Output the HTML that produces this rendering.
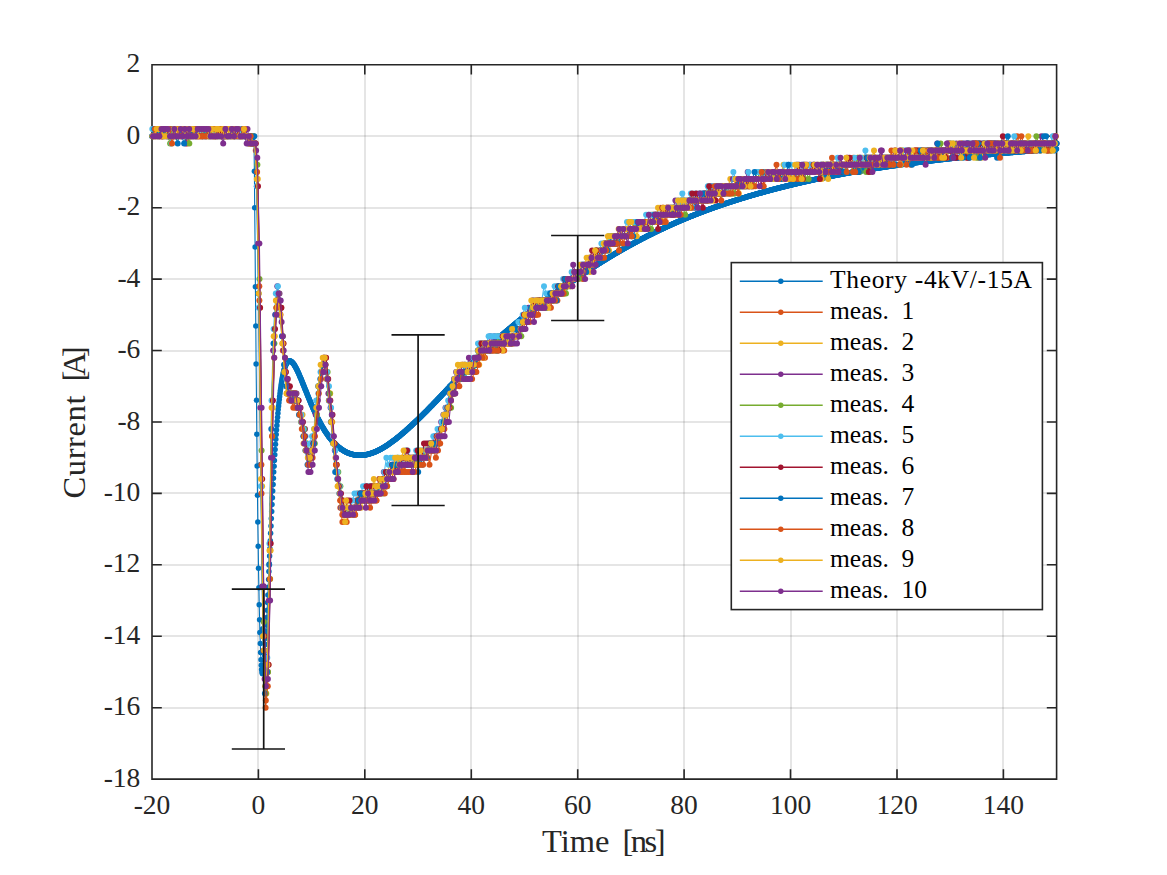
<!DOCTYPE html><html><head><meta charset="utf-8"><style>html,body{margin:0;padding:0;background:#fff;width:1167px;height:875px;overflow:hidden}svg{display:block}text{font-family:"Liberation Serif",serif;fill:#262626}</style></head><body><svg width="1167" height="875" viewBox="0 0 1167 875"><rect width="1167" height="875" fill="#fff"/><path d="M258.0 64.8V779.1" stroke="#262626" stroke-opacity="0.12" stroke-width="2" fill="none"/><path d="M365.0 64.8V779.1" stroke="#262626" stroke-opacity="0.12" stroke-width="2" fill="none"/><path d="M471.0 64.8V779.1" stroke="#262626" stroke-opacity="0.12" stroke-width="2" fill="none"/><path d="M578.0 64.8V779.1" stroke="#262626" stroke-opacity="0.12" stroke-width="2" fill="none"/><path d="M684.0 64.8V779.1" stroke="#262626" stroke-opacity="0.12" stroke-width="2" fill="none"/><path d="M791.0 64.8V779.1" stroke="#262626" stroke-opacity="0.12" stroke-width="2" fill="none"/><path d="M897.0 64.8V779.1" stroke="#262626" stroke-opacity="0.12" stroke-width="2" fill="none"/><path d="M1003.0 64.8V779.1" stroke="#262626" stroke-opacity="0.12" stroke-width="2" fill="none"/><path d="M152.0 708.0H1056.6" stroke="#262626" stroke-opacity="0.12" stroke-width="2" fill="none"/><path d="M152.0 636.0H1056.6" stroke="#262626" stroke-opacity="0.12" stroke-width="2" fill="none"/><path d="M152.0 565.0H1056.6" stroke="#262626" stroke-opacity="0.12" stroke-width="2" fill="none"/><path d="M152.0 493.0H1056.6" stroke="#262626" stroke-opacity="0.12" stroke-width="2" fill="none"/><path d="M152.0 422.0H1056.6" stroke="#262626" stroke-opacity="0.12" stroke-width="2" fill="none"/><path d="M152.0 351.0H1056.6" stroke="#262626" stroke-opacity="0.12" stroke-width="2" fill="none"/><path d="M152.0 279.0H1056.6" stroke="#262626" stroke-opacity="0.12" stroke-width="2" fill="none"/><path d="M152.0 208.0H1056.6" stroke="#262626" stroke-opacity="0.12" stroke-width="2" fill="none"/><path d="M152.0 136.0H1056.6" stroke="#262626" stroke-opacity="0.12" stroke-width="2" fill="none"/><path d="M152.0 64.8H1056.6V779.1H152.0ZM152.0 779.1v-9M152.0 64.8v9M258.4 779.1v-9M258.4 64.8v9M364.8 779.1v-9M364.8 64.8v9M471.3 779.1v-9M471.3 64.8v9M577.7 779.1v-9M577.7 64.8v9M684.1 779.1v-9M684.1 64.8v9M790.5 779.1v-9M790.5 64.8v9M897.0 779.1v-9M897.0 64.8v9M1003.4 779.1v-9M1003.4 64.8v9M152.0 779.1h9M1056.6 779.1h-9M152.0 707.7h9M1056.6 707.7h-9M152.0 636.2h9M1056.6 636.2h-9M152.0 564.8h9M1056.6 564.8h-9M152.0 493.4h9M1056.6 493.4h-9M152.0 422.0h9M1056.6 422.0h-9M152.0 350.5h9M1056.6 350.5h-9M152.0 279.1h9M1056.6 279.1h-9M152.0 207.7h9M1056.6 207.7h-9M152.0 136.2h9M1056.6 136.2h-9M152.0 64.8h9M1056.6 64.8h-9" stroke="#262626" stroke-width="1.6" fill="none" stroke-linecap="square"/><defs><marker id="m0" markerUnits="userSpaceOnUse" markerWidth="8" markerHeight="8" refX="4" refY="4" overflow="visible"><circle cx="4" cy="4" r="3.0" fill="#0072BD"/></marker><marker id="m1" markerUnits="userSpaceOnUse" markerWidth="8" markerHeight="8" refX="4" refY="4" overflow="visible"><circle cx="4" cy="4" r="3.0" fill="#D95319"/></marker><marker id="m2" markerUnits="userSpaceOnUse" markerWidth="8" markerHeight="8" refX="4" refY="4" overflow="visible"><circle cx="4" cy="4" r="3.0" fill="#EDB120"/></marker><marker id="m3" markerUnits="userSpaceOnUse" markerWidth="8" markerHeight="8" refX="4" refY="4" overflow="visible"><circle cx="4" cy="4" r="3.0" fill="#7E2F8E"/></marker><marker id="m4" markerUnits="userSpaceOnUse" markerWidth="8" markerHeight="8" refX="4" refY="4" overflow="visible"><circle cx="4" cy="4" r="3.0" fill="#77AC30"/></marker><marker id="m5" markerUnits="userSpaceOnUse" markerWidth="8" markerHeight="8" refX="4" refY="4" overflow="visible"><circle cx="4" cy="4" r="3.0" fill="#4DBEEE"/></marker><marker id="m6" markerUnits="userSpaceOnUse" markerWidth="8" markerHeight="8" refX="4" refY="4" overflow="visible"><circle cx="4" cy="4" r="3.0" fill="#A2142F"/></marker><marker id="mt" markerUnits="userSpaceOnUse" markerWidth="8" markerHeight="8" refX="4" refY="4" overflow="visible"><circle cx="4" cy="4" r="2.75" fill="#0072BD"/></marker></defs><polyline points="152.0,136.2 152.3,136.2 152.7,136.2 153.0,136.2 153.4,136.2 153.7,136.2 154.1,136.2 154.4,136.2 154.8,136.2 155.1,136.2 155.5,136.2 155.8,136.2 156.2,136.2 156.5,136.2 156.8,136.2 157.2,136.2 157.5,136.2 157.9,136.2 158.2,136.2 158.6,136.2 158.9,136.2 159.3,136.2 159.6,136.2 160.0,136.2 160.3,136.2 160.6,136.2 161.0,136.2 161.3,136.2 161.7,136.2 162.0,136.2 162.4,136.2 162.7,136.2 163.1,136.2 163.4,136.2 163.8,136.2 164.1,136.2 164.5,136.2 164.8,136.2 165.1,136.2 165.5,136.2 165.8,136.2 166.2,136.2 166.5,136.2 166.9,136.2 167.2,136.2 167.6,136.2 167.9,136.2 168.3,136.2 168.6,136.2 168.9,136.2 169.3,136.2 169.6,136.2 170.0,136.2 170.3,136.2 170.7,136.2 171.0,136.2 171.4,136.2 171.7,136.2 172.1,136.2 172.4,136.2 172.8,136.2 173.1,136.2 173.4,136.2 173.8,136.2 174.1,136.2 174.5,136.2 174.8,136.2 175.2,136.2 175.5,136.2 175.9,136.2 176.2,136.2 176.6,136.2 176.9,136.2 177.2,136.2 177.6,136.2 177.9,136.2 178.3,136.2 178.6,136.2 179.0,136.2 179.3,136.2 179.7,136.2 180.0,136.2 180.4,136.2 180.7,136.2 181.1,136.2 181.4,136.2 181.7,136.2 182.1,136.2 182.4,136.2 182.8,136.2 183.1,136.2 183.5,136.2 183.8,136.2 184.2,136.2 184.5,136.2 184.9,136.2 185.2,136.2 185.6,136.2 185.9,136.2 186.2,136.2 186.6,136.2 186.9,136.2 187.3,136.2 187.6,136.2 188.0,136.2 188.3,136.2 188.7,136.2 189.0,136.2 189.4,136.2 189.7,136.2 190.0,136.2 190.4,136.2 190.7,136.2 191.1,136.2 191.4,136.2 191.8,136.2 192.1,136.2 192.5,136.2 192.8,136.2 193.2,136.2 193.5,136.2 193.9,136.2 194.2,136.2 194.5,136.2 194.9,136.2 195.2,136.2 195.6,136.2 195.9,136.2 196.3,136.2 196.6,136.2 197.0,136.2 197.3,136.2 197.7,136.2 198.0,136.2 198.3,136.2 198.7,136.2 199.0,136.2 199.4,136.2 199.7,136.2 200.1,136.2 200.4,136.2 200.8,136.2 201.1,136.2 201.5,136.2 201.8,136.2 202.2,136.2 202.5,136.2 202.8,136.2 203.2,136.2 203.5,136.2 203.9,136.2 204.2,136.2 204.6,136.2 204.9,136.2 205.3,136.2 205.6,136.2 206.0,136.2 206.3,136.2 206.6,136.2 207.0,136.2 207.3,136.2 207.7,136.2 208.0,136.2 208.4,136.2 208.7,136.2 209.1,136.2 209.4,136.2 209.8,136.2 210.1,136.2 210.5,136.2 210.8,136.2 211.1,136.2 211.5,136.2 211.8,136.2 212.2,136.2 212.5,136.2 212.9,136.2 213.2,136.2 213.6,136.2 213.9,136.2 214.3,136.2 214.6,136.2 214.9,136.2 215.3,136.2 215.6,136.2 216.0,136.2 216.3,136.2 216.7,136.2 217.0,136.2 217.4,136.2 217.7,136.2 218.1,136.2 218.4,136.2 218.8,136.2 219.1,136.2 219.4,136.2 219.8,136.2 220.1,136.2 220.5,136.2 220.8,136.2 221.2,136.2 221.5,136.2 221.9,136.2 222.2,136.2 222.6,136.2 222.9,136.2 223.3,136.2 223.6,136.2 223.9,136.2 224.3,136.2 224.6,136.2 225.0,136.2 225.3,136.2 225.7,136.2 226.0,136.2 226.4,136.2 226.7,136.2 227.1,136.2 227.4,136.2 227.7,136.2 228.1,136.2 228.4,136.2 228.8,136.2 229.1,136.2 229.5,136.2 229.8,136.2 230.2,136.2 230.5,136.2 230.9,136.2 231.2,136.2 231.6,136.2 231.9,136.2 232.2,136.2 232.6,136.2 232.9,136.2 233.3,136.2 233.6,136.2 234.0,136.2 234.3,136.2 234.7,136.2 235.0,136.2 235.4,136.2 235.7,136.2 236.0,136.2 236.4,136.2 236.7,136.2 237.1,136.2 237.4,136.2 237.8,136.2 238.1,136.2 238.5,136.2 238.8,136.2 239.2,136.2 239.5,136.2 239.9,136.2 240.2,136.2 240.5,136.2 240.9,136.2 241.2,136.2 241.6,136.2 241.9,136.2 242.3,136.2 242.6,136.2 243.0,136.2 243.3,136.2 243.7,136.2 244.0,136.2 244.3,136.2 244.7,136.2 245.0,136.2 245.4,136.2 245.7,136.2 246.1,136.2 246.4,136.2 246.8,136.2 247.1,136.2 247.5,136.2 247.8,136.2 248.2,136.2 248.5,136.2 248.8,136.2 249.2,136.2 249.5,136.2 249.9,136.2 250.2,136.2 250.6,136.2 250.9,136.2 251.3,136.2 251.6,136.2 252.0,136.2 252.3,136.2 252.7,136.2 253.0,136.2 253.3,136.2 253.7,136.2 254.0,142.1 254.4,171.3 254.7,207.8 255.1,246.9 255.4,286.7 255.8,326.0 256.1,364.0 256.5,400.2 256.8,434.2 257.1,465.9 257.5,495.2 257.8,522.0 258.2,546.3 258.5,568.2 258.9,587.7 259.2,604.8 259.6,619.8 259.9,632.6 260.3,643.5 260.6,652.5 261.0,659.7 261.3,665.3 261.6,669.4 262.0,672.1 262.3,673.5 262.7,673.7 263.0,672.8 263.4,671.0 263.7,668.3 264.1,664.8 264.4,660.6 264.8,655.8 265.1,650.4 265.4,644.6 265.8,638.3 266.1,631.7 266.5,624.7 266.8,617.5 267.2,610.2 267.5,602.6 267.9,595.0 268.2,587.2 268.6,579.4 268.9,571.6 269.3,563.9 269.6,556.1 269.9,548.4 270.3,540.8 270.6,533.3 271.0,525.9 271.3,518.6 271.7,511.5 272.0,504.5 272.4,497.7 272.7,491.0 273.1,484.5 273.4,478.2 273.7,472.1 274.1,466.2 274.4,460.4 274.8,454.8 275.1,449.5 275.5,444.3 275.8,439.3 276.2,434.5 276.5,429.9 276.9,425.5 277.2,421.2 277.6,417.2 277.9,413.3 278.2,409.6 278.6,406.0 278.9,402.7 279.3,399.5 279.6,396.4 280.0,393.6 280.3,390.8 280.7,388.3 281.0,385.8 281.4,383.5 281.7,381.4 282.0,379.4 282.4,377.5 282.7,375.7 283.1,374.1 283.4,372.6 283.8,371.1 284.1,369.8 284.5,368.6 284.8,367.6 285.2,366.6 285.5,365.7 285.9,364.8 286.2,364.1 286.5,363.5 286.9,362.9 287.2,362.4 287.6,362.0 287.9,361.7 288.3,361.4 288.6,361.2 289.0,361.1 289.3,361.0 289.7,361.0 290.0,361.0 290.4,361.1 290.7,361.2 291.0,361.4 291.4,361.6 291.7,361.9 292.1,362.2 292.4,362.6 292.8,362.9 293.1,363.4 293.5,363.8 293.8,364.3 294.2,364.8 294.5,365.3 294.8,365.9 295.2,366.5 295.5,367.1 295.9,367.8 296.2,368.4 296.6,369.1 296.9,369.8 297.3,370.5 297.6,371.2 298.0,372.0 298.3,372.7 298.7,373.5 299.0,374.3 299.3,375.1 299.7,375.9 300.0,376.7 300.4,377.5 300.7,378.3 301.1,379.1 301.4,380.0 301.8,380.8 302.1,381.7 302.5,382.5 302.8,383.4 303.1,384.2 303.5,385.1 303.8,385.9 304.2,386.8 304.5,387.7 304.9,388.5 305.2,389.4 305.6,390.3 305.9,391.1 306.3,392.0 306.6,392.8 307.0,393.7 307.3,394.5 307.6,395.4 308.0,396.2 308.3,397.1 308.7,397.9 309.0,398.8 309.4,399.6 309.7,400.4 310.1,401.3 310.4,402.1 310.8,402.9 311.1,403.7 311.4,404.5 311.8,405.3 312.1,406.1 312.5,406.9 312.8,407.7 313.2,408.4 313.5,409.2 313.9,410.0 314.2,410.7 314.6,411.5 314.9,412.2 315.3,413.0 315.6,413.7 315.9,414.4 316.3,415.2 316.6,415.9 317.0,416.6 317.3,417.3 317.7,418.0 318.0,418.7 318.4,419.3 318.7,420.0 319.1,420.7 319.4,421.3 319.8,422.0 320.1,422.6 320.4,423.3 320.8,423.9 321.1,424.5 321.5,425.1 321.8,425.8 322.2,426.4 322.5,426.9 322.9,427.5 323.2,428.1 323.6,428.7 323.9,429.3 324.2,429.8 324.6,430.4 324.9,430.9 325.3,431.5 325.6,432.0 326.0,432.5 326.3,433.0 326.7,433.5 327.0,434.0 327.4,434.5 327.7,435.0 328.1,435.5 328.4,436.0 328.7,436.5 329.1,436.9 329.4,437.4 329.8,437.8 330.1,438.3 330.5,438.7 330.8,439.1 331.2,439.6 331.5,440.0 331.9,440.4 332.2,440.8 332.5,441.2 332.9,441.6 333.2,442.0 333.6,442.3 333.9,442.7 334.3,443.1 334.6,443.4 335.0,443.8 335.3,444.1 335.7,444.5 336.0,444.8 336.4,445.1 336.7,445.5 337.0,445.8 337.4,446.1 337.7,446.4 338.1,446.7 338.4,447.0 338.8,447.3 339.1,447.5 339.5,447.8 339.8,448.1 340.2,448.4 340.5,448.6 340.8,448.9 341.2,449.1 341.5,449.4 341.9,449.6 342.2,449.8 342.6,450.0 342.9,450.3 343.3,450.5 343.6,450.7 344.0,450.9 344.3,451.1 344.7,451.3 345.0,451.5 345.3,451.7 345.7,451.8 346.0,452.0 346.4,452.2 346.7,452.4 347.1,452.5 347.4,452.7 347.8,452.8 348.1,453.0 348.5,453.1 348.8,453.2 349.1,453.4 349.5,453.5 349.8,453.6 350.2,453.7 350.5,453.8 350.9,454.0 351.2,454.1 351.6,454.2 351.9,454.3 352.3,454.3 352.6,454.4 353.0,454.5 353.3,454.6 353.6,454.7 354.0,454.7 354.3,454.8 354.7,454.9 355.0,454.9 355.4,455.0 355.7,455.0 356.1,455.1 356.4,455.1 356.8,455.1 357.1,455.2 357.5,455.2 357.8,455.2 358.1,455.2 358.5,455.3 358.8,455.3 359.2,455.3 359.5,455.3 359.9,455.3 360.2,455.3 360.6,455.3 360.9,455.3 361.3,455.3 361.6,455.2 361.9,455.2 362.3,455.2 362.6,455.2 363.0,455.1 363.3,455.1 363.7,455.1 364.0,455.0 364.4,455.0 364.7,454.9 365.1,454.9 365.4,454.8 365.8,454.7 366.1,454.7 366.4,454.6 366.8,454.5 367.1,454.5 367.5,454.4 367.8,454.3 368.2,454.2 368.5,454.1 368.9,454.0 369.2,453.9 369.6,453.8 369.9,453.7 370.2,453.6 370.6,453.5 370.9,453.4 371.3,453.3 371.6,453.2 372.0,453.1 372.3,452.9 372.7,452.8 373.0,452.7 373.4,452.6 373.7,452.4 374.1,452.3 374.4,452.1 374.7,452.0 375.1,451.9 375.4,451.7 375.8,451.6 376.1,451.4 376.5,451.2 376.8,451.1 377.2,450.9 377.5,450.8 377.9,450.6 378.2,450.4 378.5,450.2 378.9,450.1 379.2,449.9 379.6,449.7 379.9,449.5 380.3,449.4 380.6,449.2 381.0,449.0 381.3,448.8 381.7,448.6 382.0,448.4 382.4,448.2 382.7,448.0 383.0,447.8 383.4,447.6 383.7,447.4 384.1,447.2 384.4,447.0 384.8,446.7 385.1,446.5 385.5,446.3 385.8,446.1 386.2,445.9 386.5,445.7 386.9,445.4 387.2,445.2 387.5,445.0 387.9,444.7 388.2,444.5 388.6,444.3 388.9,444.0 389.3,443.8 389.6,443.6 390.0,443.3 390.3,443.1 390.7,442.8 391.0,442.6 391.3,442.3 391.7,442.1 392.0,441.8 392.4,441.6 392.7,441.3 393.1,441.1 393.4,440.8 393.8,440.5 394.1,440.3 394.5,440.0 394.8,439.7 395.2,439.5 395.5,439.2 395.8,438.9 396.2,438.7 396.5,438.4 396.9,438.1 397.2,437.8 397.6,437.6 397.9,437.3 398.3,437.0 398.6,436.7 399.0,436.4 399.3,436.2 399.6,435.9 400.0,435.6 400.3,435.3 400.7,435.0 401.0,434.7 401.4,434.4 401.7,434.1 402.1,433.8 402.4,433.6 402.8,433.3 403.1,433.0 403.5,432.7 403.8,432.4 404.1,432.1 404.5,431.8 404.8,431.5 405.2,431.2 405.5,430.9 405.9,430.5 406.2,430.2 406.6,429.9 406.9,429.6 407.3,429.3 407.6,429.0 407.9,428.7 408.3,428.4 408.6,428.1 409.0,427.8 409.3,427.4 409.7,427.1 410.0,426.8 410.4,426.5 410.7,426.2 411.1,425.9 411.4,425.5 411.8,425.2 412.1,424.9 412.4,424.6 412.8,424.3 413.1,423.9 413.5,423.6 413.8,423.3 414.2,423.0 414.5,422.6 414.9,422.3 415.2,422.0 415.6,421.7 415.9,421.3 416.2,421.0 416.6,420.7 416.9,420.4 417.3,420.0 417.6,419.7 418.0,419.4 418.3,419.0 418.7,418.7 419.0,418.4 419.4,418.0 419.7,417.7 420.1,417.4 420.4,417.0 420.7,416.7 421.1,416.4 421.4,416.0 421.8,415.7 422.1,415.3 422.5,415.0 422.8,414.7 423.2,414.3 423.5,414.0 423.9,413.6 424.2,413.3 424.6,412.9 424.9,412.6 425.2,412.3 425.6,411.9 425.9,411.6 426.3,411.2 426.6,410.9 427.0,410.5 427.3,410.2 427.7,409.8 428.0,409.5 428.4,409.1 428.7,408.8 429.0,408.4 429.4,408.1 429.7,407.7 430.1,407.3 430.4,407.0 430.8,406.6 431.1,406.3 431.5,405.9 431.8,405.6 432.2,405.2 432.5,404.9 432.9,404.5 433.2,404.1 433.5,403.8 433.9,403.4 434.2,403.1 434.6,402.7 434.9,402.3 435.3,402.0 435.6,401.6 436.0,401.3 436.3,400.9 436.7,400.5 437.0,400.2 437.3,399.8 437.7,399.5 438.0,399.1 438.4,398.7 438.7,398.4 439.1,398.0 439.4,397.6 439.8,397.3 440.1,396.9 440.5,396.5 440.8,396.2 441.2,395.8 441.5,395.4 441.8,395.1 442.2,394.7 442.5,394.3 442.9,394.0 443.2,393.6 443.6,393.3 443.9,392.9 444.3,392.5 444.6,392.2 445.0,391.8 445.3,391.4 445.6,391.1 446.0,390.7 446.3,390.3 446.7,389.9 447.0,389.6 447.4,389.2 447.7,388.8 448.1,388.5 448.4,388.1 448.8,387.7 449.1,387.4 449.5,387.0 449.8,386.6 450.1,386.3 450.5,385.9 450.8,385.5 451.2,385.2 451.5,384.8 451.9,384.4 452.2,384.1 452.6,383.7 452.9,383.3 453.3,383.0 453.6,382.6 454.0,382.2 454.3,381.9 454.6,381.5 455.0,381.1 455.3,380.8 455.7,380.4 456.0,380.0 456.4,379.7 456.7,379.3 457.1,378.9 457.4,378.6 457.8,378.2 458.1,377.8 458.4,377.5 458.8,377.1 459.1,376.7 459.5,376.4 459.8,376.0 460.2,375.7 460.5,375.3 460.9,374.9 461.2,374.6 461.6,374.2 461.9,373.8 462.3,373.5 462.6,373.1 462.9,372.7 463.3,372.4 463.6,372.0 464.0,371.7 464.3,371.3 464.7,370.9 465.0,370.6 465.4,370.2 465.7,369.9 466.1,369.5 466.4,369.1 466.7,368.8 467.1,368.4 467.4,368.1 467.8,367.7 468.1,367.4 468.5,367.0 468.8,366.6 469.2,366.3 469.5,365.9 469.9,365.6 470.2,365.2 470.6,364.9 470.9,364.5 471.2,364.1 471.6,363.8 471.9,363.4 472.3,363.1 472.6,362.7 473.0,362.4 473.3,362.0 473.7,361.7 474.0,361.3 474.4,361.0 474.7,360.6 475.0,360.3 475.4,359.9 475.7,359.6 476.1,359.2 476.4,358.9 476.8,358.5 477.1,358.2 477.5,357.9 477.8,357.5 478.2,357.2 478.5,356.8 478.9,356.5 479.2,356.1 479.5,355.8 479.9,355.4 480.2,355.1 480.6,354.8 480.9,354.4 481.3,354.1 481.6,353.7 482.0,353.4 482.3,353.1 482.7,352.7 483.0,352.4 483.3,352.1 483.7,351.7 484.0,351.4 484.4,351.1 484.7,350.7 485.1,350.4 485.4,350.1 485.8,349.7 486.1,349.4 486.5,349.1 486.8,348.7 487.2,348.4 487.5,348.1 487.8,347.8 488.2,347.4 488.5,347.1 488.9,346.8 489.2,346.5 489.6,346.2 489.9,345.8 490.3,345.5 490.6,345.2 491.0,344.9 491.3,344.6 491.7,344.2 492.0,343.9 492.3,343.6 492.7,343.3 493.0,343.0 493.4,342.7 493.7,342.3 494.1,342.0 494.4,341.7 494.8,341.4 495.1,341.1 495.5,340.8 495.8,340.5 496.1,340.2 496.5,339.9 496.8,339.6 497.2,339.2 497.5,338.9 497.9,338.6 498.2,338.3 498.6,338.0 498.9,337.7 499.3,337.4 499.6,337.1 500.0,336.8 500.3,336.5 500.6,336.2 501.0,335.9 501.3,335.6 501.7,335.3 502.0,335.0 502.4,334.7 502.7,334.4 503.1,334.1 503.4,333.8 503.8,333.5 504.1,333.2 504.4,332.9 504.8,332.6 505.1,332.3 505.5,332.0 505.8,331.7 506.2,331.4 506.5,331.1 506.9,330.9 507.2,330.6 507.6,330.3 507.9,330.0 508.3,329.7 508.6,329.4 508.9,329.1 509.3,328.8 509.6,328.5 510.0,328.2 510.3,327.9 510.7,327.7 511.0,327.4 511.4,327.1 511.7,326.8 512.1,326.5 512.4,326.2 512.7,325.9 513.1,325.6 513.4,325.3 513.8,325.1 514.1,324.8 514.5,324.5 514.8,324.2 515.2,323.9 515.5,323.6 515.9,323.3 516.2,323.1 516.6,322.8 516.9,322.5 517.2,322.2 517.6,321.9 517.9,321.6 518.3,321.4 518.6,321.1 519.0,320.8 519.3,320.5 519.7,320.2 520.0,319.9 520.4,319.7 520.7,319.4 521.1,319.1 521.4,318.8 521.7,318.5 522.1,318.2 522.4,318.0 522.8,317.7 523.1,317.4 523.5,317.1 523.8,316.8 524.2,316.6 524.5,316.3 524.9,316.0 525.2,315.7 525.5,315.4 525.9,315.2 526.2,314.9 526.6,314.6 526.9,314.3 527.3,314.0 527.6,313.8 528.0,313.5 528.3,313.2 528.7,312.9 529.0,312.7 529.4,312.4 529.7,312.1 530.0,311.8 530.4,311.6 530.7,311.3 531.1,311.0 531.4,310.8 531.8,310.5 532.1,310.2 532.5,309.9 532.8,309.7 533.2,309.4 533.5,309.1 533.8,308.9 534.2,308.6 534.5,308.3 534.9,308.1 535.2,307.8 535.6,307.5 535.9,307.3 536.3,307.0 536.6,306.7 537.0,306.5 537.3,306.2 537.7,306.0 538.0,305.7 538.3,305.4 538.7,305.2 539.0,304.9 539.4,304.7 539.7,304.4 540.1,304.1 540.4,303.9 540.8,303.6 541.1,303.4 541.5,303.1 541.8,302.8 542.1,302.6 542.5,302.3 542.8,302.1 543.2,301.8 543.5,301.6 543.9,301.3 544.2,301.0 544.6,300.8 544.9,300.5 545.3,300.3 545.6,300.0 546.0,299.8 546.3,299.5 546.6,299.3 547.0,299.0 547.3,298.8 547.7,298.5 548.0,298.3 548.4,298.0 548.7,297.8 549.1,297.5 549.4,297.3 549.8,297.0 550.1,296.8 550.4,296.5 550.8,296.3 551.1,296.0 551.5,295.8 551.8,295.5 552.2,295.3 552.5,295.0 552.9,294.8 553.2,294.5 553.6,294.3 553.9,294.0 554.3,293.8 554.6,293.5 554.9,293.3 555.3,293.1 555.6,292.8 556.0,292.6 556.3,292.3 556.7,292.1 557.0,291.8 557.4,291.6 557.7,291.3 558.1,291.1 558.4,290.9 558.8,290.6 559.1,290.4 559.4,290.1 559.8,289.9 560.1,289.6 560.5,289.4 560.8,289.2 561.2,288.9 561.5,288.7 561.9,288.4 562.2,288.2 562.6,288.0 562.9,287.7 563.2,287.5 563.6,287.2 563.9,287.0 564.3,286.8 564.6,286.5 565.0,286.3 565.3,286.0 565.7,285.8 566.0,285.6 566.4,285.3 566.7,285.1 567.1,284.8 567.4,284.6 567.7,284.4 568.1,284.1 568.4,283.9 568.8,283.6 569.1,283.4 569.5,283.2 569.8,282.9 570.2,282.7 570.5,282.5 570.9,282.2 571.2,282.0 571.5,281.7 571.9,281.5 572.2,281.3 572.6,281.0 572.9,280.8 573.3,280.6 573.6,280.3 574.0,280.1 574.3,279.8 574.7,279.6 575.0,279.4 575.4,279.1 575.7,278.9 576.0,278.7 576.4,278.4 576.7,278.2 577.1,277.9 577.4,277.7 577.8,277.5 578.1,277.2 578.5,277.0 578.8,276.8 579.2,276.5 579.5,276.3 579.8,276.1 580.2,275.8 580.5,275.6 580.9,275.4 581.2,275.1 581.6,274.9 581.9,274.7 582.3,274.4 582.6,274.2 583.0,274.0 583.3,273.7 583.7,273.5 584.0,273.3 584.3,273.0 584.7,272.8 585.0,272.6 585.4,272.3 585.7,272.1 586.1,271.9 586.4,271.6 586.8,271.4 587.1,271.2 587.5,271.0 587.8,270.7 588.2,270.5 588.5,270.3 588.8,270.0 589.2,269.8 589.5,269.6 589.9,269.4 590.2,269.1 590.6,268.9 590.9,268.7 591.3,268.5 591.6,268.2 592.0,268.0 592.3,267.8 592.6,267.6 593.0,267.3 593.3,267.1 593.7,266.9 594.0,266.7 594.4,266.5 594.7,266.2 595.1,266.0 595.4,265.8 595.8,265.6 596.1,265.4 596.5,265.1 596.8,264.9 597.1,264.7 597.5,264.5 597.8,264.3 598.2,264.0 598.5,263.8 598.9,263.6 599.2,263.4 599.6,263.2 599.9,262.9 600.3,262.7 600.6,262.5 600.9,262.3 601.3,262.1 601.6,261.9 602.0,261.6 602.3,261.4 602.7,261.2 603.0,261.0 603.4,260.8 603.7,260.6 604.1,260.4 604.4,260.2 604.8,259.9 605.1,259.7 605.4,259.5 605.8,259.3 606.1,259.1 606.5,258.9 606.8,258.7 607.2,258.5 607.5,258.2 607.9,258.0 608.2,257.8 608.6,257.6 608.9,257.4 609.2,257.2 609.6,257.0 609.9,256.8 610.3,256.6 610.6,256.4 611.0,256.2 611.3,256.0 611.7,255.7 612.0,255.5 612.4,255.3 612.7,255.1 613.1,254.9 613.4,254.7 613.7,254.5 614.1,254.3 614.4,254.1 614.8,253.9 615.1,253.7 615.5,253.5 615.8,253.3 616.2,253.1 616.5,252.9 616.9,252.7 617.2,252.5 617.5,252.3 617.9,252.1 618.2,251.9 618.6,251.7 618.9,251.5 619.3,251.3 619.6,251.1 620.0,250.9 620.3,250.7 620.7,250.5 621.0,250.3 621.4,250.1 621.7,249.9 622.0,249.7 622.4,249.5 622.7,249.3 623.1,249.1 623.4,248.9 623.8,248.7 624.1,248.5 624.5,248.3 624.8,248.1 625.2,247.9 625.5,247.7 625.9,247.5 626.2,247.4 626.5,247.2 626.9,247.0 627.2,246.8 627.6,246.6 627.9,246.4 628.3,246.2 628.6,246.0 629.0,245.8 629.3,245.6 629.7,245.4 630.0,245.2 630.3,245.1 630.7,244.9 631.0,244.7 631.4,244.5 631.7,244.3 632.1,244.1 632.4,243.9 632.8,243.7 633.1,243.5 633.5,243.4 633.8,243.2 634.2,243.0 634.5,242.8 634.8,242.6 635.2,242.4 635.5,242.2 635.9,242.1 636.2,241.9 636.6,241.7 636.9,241.5 637.3,241.3 637.6,241.1 638.0,241.0 638.3,240.8 638.6,240.6 639.0,240.4 639.3,240.2 639.7,240.0 640.0,239.9 640.4,239.7 640.7,239.5 641.1,239.3 641.4,239.1 641.8,239.0 642.1,238.8 642.5,238.6 642.8,238.4 643.1,238.2 643.5,238.1 643.8,237.9 644.2,237.7 644.5,237.5 644.9,237.4 645.2,237.2 645.6,237.0 645.9,236.8 646.3,236.6 646.6,236.5 646.9,236.3 647.3,236.1 647.6,235.9 648.0,235.8 648.3,235.6 648.7,235.4 649.0,235.2 649.4,235.1 649.7,234.9 650.1,234.7 650.4,234.6 650.8,234.4 651.1,234.2 651.4,234.0 651.8,233.9 652.1,233.7 652.5,233.5 652.8,233.4 653.2,233.2 653.5,233.0 653.9,232.8 654.2,232.7 654.6,232.5 654.9,232.3 655.3,232.2 655.6,232.0 655.9,231.8 656.3,231.7 656.6,231.5 657.0,231.3 657.3,231.2 657.7,231.0 658.0,230.8 658.4,230.7 658.7,230.5 659.1,230.3 659.4,230.2 659.7,230.0 660.1,229.8 660.4,229.7 660.8,229.5 661.1,229.3 661.5,229.2 661.8,229.0 662.2,228.9 662.5,228.7 662.9,228.5 663.2,228.4 663.6,228.2 663.9,228.1 664.2,227.9 664.6,227.7 664.9,227.6 665.3,227.4 665.6,227.2 666.0,227.1 666.3,226.9 666.7,226.8 667.0,226.6 667.4,226.5 667.7,226.3 668.0,226.1 668.4,226.0 668.7,225.8 669.1,225.7 669.4,225.5 669.8,225.4 670.1,225.2 670.5,225.0 670.8,224.9 671.2,224.7 671.5,224.6 671.9,224.4 672.2,224.3 672.5,224.1 672.9,224.0 673.2,223.8 673.6,223.7 673.9,223.5 674.3,223.3 674.6,223.2 675.0,223.0 675.3,222.9 675.7,222.7 676.0,222.6 676.3,222.4 676.7,222.3 677.0,222.1 677.4,222.0 677.7,221.8 678.1,221.7 678.4,221.5 678.8,221.4 679.1,221.2 679.5,221.1 679.8,220.9 680.2,220.8 680.5,220.6 680.8,220.5 681.2,220.4 681.5,220.2 681.9,220.1 682.2,219.9 682.6,219.8 682.9,219.6 683.3,219.5 683.6,219.3 684.0,219.2 684.3,219.0 684.6,218.9 685.0,218.8 685.3,218.6 685.7,218.5 686.0,218.3 686.4,218.2 686.7,218.0 687.1,217.9 687.4,217.8 687.8,217.6 688.1,217.5 688.5,217.3 688.8,217.2 689.1,217.0 689.5,216.9 689.8,216.8 690.2,216.6 690.5,216.5 690.9,216.3 691.2,216.2 691.6,216.1 691.9,215.9 692.3,215.8 692.6,215.7 693.0,215.5 693.3,215.4 693.6,215.2 694.0,215.1 694.3,215.0 694.7,214.8 695.0,214.7 695.4,214.6 695.7,214.4 696.1,214.3 696.4,214.2 696.8,214.0 697.1,213.9 697.4,213.7 697.8,213.6 698.1,213.5 698.5,213.3 698.8,213.2 699.2,213.1 699.5,212.9 699.9,212.8 700.2,212.7 700.6,212.5 700.9,212.4 701.3,212.3 701.6,212.2 701.9,212.0 702.3,211.9 702.6,211.8 703.0,211.6 703.3,211.5 703.7,211.4 704.0,211.2 704.4,211.1 704.7,211.0 705.1,210.8 705.4,210.7 705.7,210.6 706.1,210.5 706.4,210.3 706.8,210.2 707.1,210.1 707.5,210.0 707.8,209.8 708.2,209.7 708.5,209.6 708.9,209.4 709.2,209.3 709.6,209.2 709.9,209.1 710.2,208.9 710.6,208.8 710.9,208.7 711.3,208.6 711.6,208.4 712.0,208.3 712.3,208.2 712.7,208.1 713.0,207.9 713.4,207.8 713.7,207.7 714.0,207.6 714.4,207.5 714.7,207.3 715.1,207.2 715.4,207.1 715.8,207.0 716.1,206.8 716.5,206.7 716.8,206.6 717.2,206.5 717.5,206.4 717.9,206.2 718.2,206.1 718.5,206.0 718.9,205.9 719.2,205.8 719.6,205.6 719.9,205.5 720.3,205.4 720.6,205.3 721.0,205.2 721.3,205.0 721.7,204.9 722.0,204.8 722.4,204.7 722.7,204.6 723.0,204.5 723.4,204.3 723.7,204.2 724.1,204.1 724.4,204.0 724.8,203.9 725.1,203.8 725.5,203.6 725.8,203.5 726.2,203.4 726.5,203.3 726.8,203.2 727.2,203.1 727.5,202.9 727.9,202.8 728.2,202.7 728.6,202.6 728.9,202.5 729.3,202.4 729.6,202.3 730.0,202.2 730.3,202.0 730.7,201.9 731.0,201.8 731.3,201.7 731.7,201.6 732.0,201.5 732.4,201.4 732.7,201.3 733.1,201.1 733.4,201.0 733.8,200.9 734.1,200.8 734.5,200.7 734.8,200.6 735.1,200.5 735.5,200.4 735.8,200.3 736.2,200.1 736.5,200.0 736.9,199.9 737.2,199.8 737.6,199.7 737.9,199.6 738.3,199.5 738.6,199.4 739.0,199.3 739.3,199.2 739.6,199.1 740.0,199.0 740.3,198.8 740.7,198.7 741.0,198.6 741.4,198.5 741.7,198.4 742.1,198.3 742.4,198.2 742.8,198.1 743.1,198.0 743.4,197.9 743.8,197.8 744.1,197.7 744.5,197.6 744.8,197.5 745.2,197.4 745.5,197.3 745.9,197.2 746.2,197.1 746.6,197.0 746.9,196.8 747.3,196.7 747.6,196.6 747.9,196.5 748.3,196.4 748.6,196.3 749.0,196.2 749.3,196.1 749.7,196.0 750.0,195.9 750.4,195.8 750.7,195.7 751.1,195.6 751.4,195.5 751.7,195.4 752.1,195.3 752.4,195.2 752.8,195.1 753.1,195.0 753.5,194.9 753.8,194.8 754.2,194.7 754.5,194.6 754.9,194.5 755.2,194.4 755.6,194.3 755.9,194.2 756.2,194.1 756.6,194.0 756.9,193.9 757.3,193.8 757.6,193.7 758.0,193.6 758.3,193.5 758.7,193.4 759.0,193.3 759.4,193.2 759.7,193.1 760.1,193.0 760.4,192.9 760.7,192.8 761.1,192.7 761.4,192.7 761.8,192.6 762.1,192.5 762.5,192.4 762.8,192.3 763.2,192.2 763.5,192.1 763.9,192.0 764.2,191.9 764.5,191.8 764.9,191.7 765.2,191.6 765.6,191.5 765.9,191.4 766.3,191.3 766.6,191.2 767.0,191.1 767.3,191.0 767.7,190.9 768.0,190.8 768.4,190.8 768.7,190.7 769.0,190.6 769.4,190.5 769.7,190.4 770.1,190.3 770.4,190.2 770.8,190.1 771.1,190.0 771.5,189.9 771.8,189.8 772.2,189.7 772.5,189.6 772.8,189.6 773.2,189.5 773.5,189.4 773.9,189.3 774.2,189.2 774.6,189.1 774.9,189.0 775.3,188.9 775.6,188.8 776.0,188.7 776.3,188.6 776.7,188.6 777.0,188.5 777.3,188.4 777.7,188.3 778.0,188.2 778.4,188.1 778.7,188.0 779.1,187.9 779.4,187.8 779.8,187.8 780.1,187.7 780.5,187.6 780.8,187.5 781.1,187.4 781.5,187.3 781.8,187.2 782.2,187.1 782.5,187.1 782.9,187.0 783.2,186.9 783.6,186.8 783.9,186.7 784.3,186.6 784.6,186.5 785.0,186.4 785.3,186.4 785.6,186.3 786.0,186.2 786.3,186.1 786.7,186.0 787.0,185.9 787.4,185.8 787.7,185.8 788.1,185.7 788.4,185.6 788.8,185.5 789.1,185.4 789.5,185.3 789.8,185.3 790.1,185.2 790.5,185.1 790.8,185.0 791.2,184.9 791.5,184.8 791.9,184.7 792.2,184.7 792.6,184.6 792.9,184.5 793.3,184.4 793.6,184.3 793.9,184.2 794.3,184.2 794.6,184.1 795.0,184.0 795.3,183.9 795.7,183.8 796.0,183.8 796.4,183.7 796.7,183.6 797.1,183.5 797.4,183.4 797.8,183.3 798.1,183.3 798.4,183.2 798.8,183.1 799.1,183.0 799.5,182.9 799.8,182.9 800.2,182.8 800.5,182.7 800.9,182.6 801.2,182.5 801.6,182.5 801.9,182.4 802.2,182.3 802.6,182.2 802.9,182.1 803.3,182.1 803.6,182.0 804.0,181.9 804.3,181.8 804.7,181.8 805.0,181.7 805.4,181.6 805.7,181.5 806.1,181.4 806.4,181.4 806.7,181.3 807.1,181.2 807.4,181.1 807.8,181.1 808.1,181.0 808.5,180.9 808.8,180.8 809.2,180.7 809.5,180.7 809.9,180.6 810.2,180.5 810.5,180.4 810.9,180.4 811.2,180.3 811.6,180.2 811.9,180.1 812.3,180.1 812.6,180.0 813.0,179.9 813.3,179.8 813.7,179.8 814.0,179.7 814.4,179.6 814.7,179.5 815.0,179.5 815.4,179.4 815.7,179.3 816.1,179.2 816.4,179.2 816.8,179.1 817.1,179.0 817.5,179.0 817.8,178.9 818.2,178.8 818.5,178.7 818.8,178.7 819.2,178.6 819.5,178.5 819.9,178.4 820.2,178.4 820.6,178.3 820.9,178.2 821.3,178.2 821.6,178.1 822.0,178.0 822.3,177.9 822.7,177.9 823.0,177.8 823.3,177.7 823.7,177.7 824.0,177.6 824.4,177.5 824.7,177.5 825.1,177.4 825.4,177.3 825.8,177.2 826.1,177.2 826.5,177.1 826.8,177.0 827.2,177.0 827.5,176.9 827.8,176.8 828.2,176.8 828.5,176.7 828.9,176.6 829.2,176.5 829.6,176.5 829.9,176.4 830.3,176.3 830.6,176.3 831.0,176.2 831.3,176.1 831.6,176.1 832.0,176.0 832.3,175.9 832.7,175.9 833.0,175.8 833.4,175.7 833.7,175.7 834.1,175.6 834.4,175.5 834.8,175.5 835.1,175.4 835.5,175.3 835.8,175.3 836.1,175.2 836.5,175.1 836.8,175.1 837.2,175.0 837.5,174.9 837.9,174.9 838.2,174.8 838.6,174.7 838.9,174.7 839.3,174.6 839.6,174.5 839.9,174.5 840.3,174.4 840.6,174.4 841.0,174.3 841.3,174.2 841.7,174.2 842.0,174.1 842.4,174.0 842.7,174.0 843.1,173.9 843.4,173.8 843.8,173.8 844.1,173.7 844.4,173.6 844.8,173.6 845.1,173.5 845.5,173.5 845.8,173.4 846.2,173.3 846.5,173.3 846.9,173.2 847.2,173.1 847.6,173.1 847.9,173.0 848.2,173.0 848.6,172.9 848.9,172.8 849.3,172.8 849.6,172.7 850.0,172.7 850.3,172.6 850.7,172.5 851.0,172.5 851.4,172.4 851.7,172.3 852.1,172.3 852.4,172.2 852.7,172.2 853.1,172.1 853.4,172.0 853.8,172.0 854.1,171.9 854.5,171.9 854.8,171.8 855.2,171.7 855.5,171.7 855.9,171.6 856.2,171.6 856.6,171.5 856.9,171.4 857.2,171.4 857.6,171.3 857.9,171.3 858.3,171.2 858.6,171.1 859.0,171.1 859.3,171.0 859.7,171.0 860.0,170.9 860.4,170.9 860.7,170.8 861.0,170.7 861.4,170.7 861.7,170.6 862.1,170.6 862.4,170.5 862.8,170.4 863.1,170.4 863.5,170.3 863.8,170.3 864.2,170.2 864.5,170.2 864.9,170.1 865.2,170.0 865.5,170.0 865.9,169.9 866.2,169.9 866.6,169.8 866.9,169.8 867.3,169.7 867.6,169.7 868.0,169.6 868.3,169.5 868.7,169.5 869.0,169.4 869.3,169.4 869.7,169.3 870.0,169.3 870.4,169.2 870.7,169.2 871.1,169.1 871.4,169.0 871.8,169.0 872.1,168.9 872.5,168.9 872.8,168.8 873.2,168.8 873.5,168.7 873.8,168.7 874.2,168.6 874.5,168.5 874.9,168.5 875.2,168.4 875.6,168.4 875.9,168.3 876.3,168.3 876.6,168.2 877.0,168.2 877.3,168.1 877.6,168.1 878.0,168.0 878.3,168.0 878.7,167.9 879.0,167.9 879.4,167.8 879.7,167.7 880.1,167.7 880.4,167.6 880.8,167.6 881.1,167.5 881.5,167.5 881.8,167.4 882.1,167.4 882.5,167.3 882.8,167.3 883.2,167.2 883.5,167.2 883.9,167.1 884.2,167.1 884.6,167.0 884.9,167.0 885.3,166.9 885.6,166.9 885.9,166.8 886.3,166.8 886.6,166.7 887.0,166.7 887.3,166.6 887.7,166.6 888.0,166.5 888.4,166.5 888.7,166.4 889.1,166.3 889.4,166.3 889.8,166.2 890.1,166.2 890.4,166.1 890.8,166.1 891.1,166.0 891.5,166.0 891.8,165.9 892.2,165.9 892.5,165.8 892.9,165.8 893.2,165.7 893.6,165.7 893.9,165.7 894.3,165.6 894.6,165.6 894.9,165.5 895.3,165.5 895.6,165.4 896.0,165.4 896.3,165.3 896.7,165.3 897.0,165.2 897.4,165.2 897.7,165.1 898.1,165.1 898.4,165.0 898.7,165.0 899.1,164.9 899.4,164.9 899.8,164.8 900.1,164.8 900.5,164.7 900.8,164.7 901.2,164.6 901.5,164.6 901.9,164.5 902.2,164.5 902.6,164.4 902.9,164.4 903.2,164.3 903.6,164.3 903.9,164.3 904.3,164.2 904.6,164.2 905.0,164.1 905.3,164.1 905.7,164.0 906.0,164.0 906.4,163.9 906.7,163.9 907.0,163.8 907.4,163.8 907.7,163.7 908.1,163.7 908.4,163.6 908.8,163.6 909.1,163.6 909.5,163.5 909.8,163.5 910.2,163.4 910.5,163.4 910.9,163.3 911.2,163.3 911.5,163.2 911.9,163.2 912.2,163.1 912.6,163.1 912.9,163.1 913.3,163.0 913.6,163.0 914.0,162.9 914.3,162.9 914.7,162.8 915.0,162.8 915.3,162.7 915.7,162.7 916.0,162.6 916.4,162.6 916.7,162.6 917.1,162.5 917.4,162.5 917.8,162.4 918.1,162.4 918.5,162.3 918.8,162.3 919.2,162.3 919.5,162.2 919.8,162.2 920.2,162.1 920.5,162.1 920.9,162.0 921.2,162.0 921.6,161.9 921.9,161.9 922.3,161.9 922.6,161.8 923.0,161.8 923.3,161.7 923.7,161.7 924.0,161.6 924.3,161.6 924.7,161.6 925.0,161.5 925.4,161.5 925.7,161.4 926.1,161.4 926.4,161.3 926.8,161.3 927.1,161.3 927.5,161.2 927.8,161.2 928.1,161.1 928.5,161.1 928.8,161.0 929.2,161.0 929.5,161.0 929.9,160.9 930.2,160.9 930.6,160.8 930.9,160.8 931.3,160.7 931.6,160.7 932.0,160.7 932.3,160.6 932.6,160.6 933.0,160.5 933.3,160.5 933.7,160.5 934.0,160.4 934.4,160.4 934.7,160.3 935.1,160.3 935.4,160.3 935.8,160.2 936.1,160.2 936.4,160.1 936.8,160.1 937.1,160.0 937.5,160.0 937.8,160.0 938.2,159.9 938.5,159.9 938.9,159.8 939.2,159.8 939.6,159.8 939.9,159.7 940.3,159.7 940.6,159.6 940.9,159.6 941.3,159.6 941.6,159.5 942.0,159.5 942.3,159.4 942.7,159.4 943.0,159.4 943.4,159.3 943.7,159.3 944.1,159.2 944.4,159.2 944.7,159.2 945.1,159.1 945.4,159.1 945.8,159.0 946.1,159.0 946.5,159.0 946.8,158.9 947.2,158.9 947.5,158.9 947.9,158.8 948.2,158.8 948.6,158.7 948.9,158.7 949.2,158.7 949.6,158.6 949.9,158.6 950.3,158.5 950.6,158.5 951.0,158.5 951.3,158.4 951.7,158.4 952.0,158.3 952.4,158.3 952.7,158.3 953.0,158.2 953.4,158.2 953.7,158.2 954.1,158.1 954.4,158.1 954.8,158.0 955.1,158.0 955.5,158.0 955.8,157.9 956.2,157.9 956.5,157.9 956.9,157.8 957.2,157.8 957.5,157.7 957.9,157.7 958.2,157.7 958.6,157.6 958.9,157.6 959.3,157.6 959.6,157.5 960.0,157.5 960.3,157.4 960.7,157.4 961.0,157.4 961.4,157.3 961.7,157.3 962.0,157.3 962.4,157.2 962.7,157.2 963.1,157.2 963.4,157.1 963.8,157.1 964.1,157.0 964.5,157.0 964.8,157.0 965.2,156.9 965.5,156.9 965.8,156.9 966.2,156.8 966.5,156.8 966.9,156.8 967.2,156.7 967.6,156.7 967.9,156.6 968.3,156.6 968.6,156.6 969.0,156.5 969.3,156.5 969.7,156.5 970.0,156.4 970.3,156.4 970.7,156.4 971.0,156.3 971.4,156.3 971.7,156.3 972.1,156.2 972.4,156.2 972.8,156.1 973.1,156.1 973.5,156.1 973.8,156.0 974.1,156.0 974.5,156.0 974.8,155.9 975.2,155.9 975.5,155.9 975.9,155.8 976.2,155.8 976.6,155.8 976.9,155.7 977.3,155.7 977.6,155.7 978.0,155.6 978.3,155.6 978.6,155.6 979.0,155.5 979.3,155.5 979.7,155.5 980.0,155.4 980.4,155.4 980.7,155.4 981.1,155.3 981.4,155.3 981.8,155.2 982.1,155.2 982.4,155.2 982.8,155.1 983.1,155.1 983.5,155.1 983.8,155.0 984.2,155.0 984.5,155.0 984.9,154.9 985.2,154.9 985.6,154.9 985.9,154.8 986.3,154.8 986.6,154.8 986.9,154.7 987.3,154.7 987.6,154.7 988.0,154.6 988.3,154.6 988.7,154.6 989.0,154.5 989.4,154.5 989.7,154.5 990.1,154.4 990.4,154.4 990.8,154.4 991.1,154.3 991.4,154.3 991.8,154.3 992.1,154.3 992.5,154.2 992.8,154.2 993.2,154.2 993.5,154.1 993.9,154.1 994.2,154.1 994.6,154.0 994.9,154.0 995.2,154.0 995.6,153.9 995.9,153.9 996.3,153.9 996.6,153.8 997.0,153.8 997.3,153.8 997.7,153.7 998.0,153.7 998.4,153.7 998.7,153.6 999.1,153.6 999.4,153.6 999.7,153.5 1000.1,153.5 1000.4,153.5 1000.8,153.4 1001.1,153.4 1001.5,153.4 1001.8,153.4 1002.2,153.3 1002.5,153.3 1002.9,153.3 1003.2,153.2 1003.5,153.2 1003.9,153.2 1004.2,153.1 1004.6,153.1 1004.9,153.1 1005.3,153.0 1005.6,153.0 1006.0,153.0 1006.3,153.0 1006.7,152.9 1007.0,152.9 1007.4,152.9 1007.7,152.8 1008.0,152.8 1008.4,152.8 1008.7,152.7 1009.1,152.7 1009.4,152.7 1009.8,152.6 1010.1,152.6 1010.5,152.6 1010.8,152.6 1011.2,152.5 1011.5,152.5 1011.8,152.5 1012.2,152.4 1012.5,152.4 1012.9,152.4 1013.2,152.3 1013.6,152.3 1013.9,152.3 1014.3,152.3 1014.6,152.2 1015.0,152.2 1015.3,152.2 1015.7,152.1 1016.0,152.1 1016.3,152.1 1016.7,152.0 1017.0,152.0 1017.4,152.0 1017.7,152.0 1018.1,151.9 1018.4,151.9 1018.8,151.9 1019.1,151.8 1019.5,151.8 1019.8,151.8 1020.1,151.7 1020.5,151.7 1020.8,151.7 1021.2,151.7 1021.5,151.6 1021.9,151.6 1022.2,151.6 1022.6,151.5 1022.9,151.5 1023.3,151.5 1023.6,151.5 1024.0,151.4 1024.3,151.4 1024.6,151.4 1025.0,151.3 1025.3,151.3 1025.7,151.3 1026.0,151.3 1026.4,151.2 1026.7,151.2 1027.1,151.2 1027.4,151.1 1027.8,151.1 1028.1,151.1 1028.5,151.1 1028.8,151.0 1029.1,151.0 1029.5,151.0 1029.8,150.9 1030.2,150.9 1030.5,150.9 1030.9,150.9 1031.2,150.8 1031.6,150.8 1031.9,150.8 1032.3,150.7 1032.6,150.7 1032.9,150.7 1033.3,150.7 1033.6,150.6 1034.0,150.6 1034.3,150.6 1034.7,150.5 1035.0,150.5 1035.4,150.5 1035.7,150.5 1036.1,150.4 1036.4,150.4 1036.8,150.4 1037.1,150.4 1037.4,150.3 1037.8,150.3 1038.1,150.3 1038.5,150.2 1038.8,150.2 1039.2,150.2 1039.5,150.2 1039.9,150.1 1040.2,150.1 1040.6,150.1 1040.9,150.0 1041.2,150.0 1041.6,150.0 1041.9,150.0 1042.3,149.9 1042.6,149.9 1043.0,149.9 1043.3,149.9 1043.7,149.8 1044.0,149.8 1044.4,149.8 1044.7,149.8 1045.1,149.7 1045.4,149.7 1045.7,149.7 1046.1,149.6 1046.4,149.6 1046.8,149.6 1047.1,149.6 1047.5,149.5 1047.8,149.5 1048.2,149.5 1048.5,149.5 1048.9,149.4 1049.2,149.4 1049.5,149.4 1049.9,149.3 1050.2,149.3 1050.6,149.3 1050.9,149.3 1051.3,149.2 1051.6,149.2 1052.0,149.2 1052.3,149.2 1052.7,149.1 1053.0,149.1 1053.4,149.1 1053.7,149.1 1054.0,149.0 1054.4,149.0 1054.7,149.0 1055.1,149.0 1055.4,148.9 1055.8,148.9 1056.1,148.9 1056.5,148.9" fill="none" stroke="#0072BD" stroke-width="1.1" stroke-linejoin="round" marker-start="url(#mt)" marker-mid="url(#mt)" marker-end="url(#mt)"/><polyline points="153.0,129.1 155.1,129.1 157.3,129.1 159.4,136.2 161.5,136.2 163.6,129.1 165.8,136.2 167.9,136.2 170.0,136.2 172.2,136.2 174.3,136.2 176.4,136.2 178.5,136.2 180.7,129.1 182.8,129.1 184.9,136.2 187.1,143.4 189.2,136.2 191.3,136.2 193.4,129.1 195.6,136.2 197.7,136.2 199.8,136.2 202.0,136.2 204.1,129.1 206.2,136.2 208.3,136.2 210.5,129.1 212.6,136.2 214.7,136.2 216.9,129.1 219.0,129.1 221.1,136.2 223.2,129.1 225.4,129.1 227.5,136.2 229.6,129.1 231.7,129.1 233.9,136.2 236.0,129.1 238.1,129.1 240.3,136.2 242.4,136.2 244.5,136.2 246.6,136.2 248.8,136.2 250.9,143.4 253.0,143.4 255.2,143.4 257.3,186.2 259.4,300.5 261.5,493.4 263.7,650.5 265.8,700.5 267.9,672.0 270.1,550.5 272.2,400.5 274.3,329.1 276.4,300.5 278.6,293.4 280.7,307.7 282.8,350.5 285.0,371.9 287.1,393.4 289.2,393.4 291.3,400.5 293.5,400.5 295.6,407.7 297.7,407.7 299.9,407.7 302.0,422.0 304.1,436.2 306.2,443.4 308.4,457.7 310.5,457.7 312.6,457.7 314.8,436.2 316.9,414.8 319.0,386.2 321.1,371.9 323.3,364.8 325.4,364.8 327.5,379.1 329.7,393.4 331.8,422.0 333.9,443.4 336.0,472.0 338.2,486.2 340.3,507.7 342.4,522.0 344.6,522.0 346.7,522.0 348.8,514.8 350.9,507.7 353.1,514.8 355.2,514.8 357.3,507.7 359.5,500.5 361.6,500.5 363.7,500.5 365.8,500.5 368.0,500.5 370.1,507.7 372.2,500.5 374.4,500.5 376.5,500.5 378.6,493.4 380.7,493.4 382.9,479.1 385.0,479.1 387.1,479.1 389.3,479.1 391.4,472.0 393.5,479.1 395.6,472.0 397.8,464.8 399.9,472.0 402.0,464.8 404.2,472.0 406.3,457.7 408.4,464.8 410.5,457.7 412.7,457.7 414.8,464.8 416.9,457.7 419.1,457.7 421.2,457.7 423.3,457.7 425.4,457.7 427.6,457.7 429.7,450.5 431.8,450.5 434.0,443.4 436.1,443.4 438.2,436.2 440.3,436.2 442.5,422.0 444.6,422.0 446.7,407.7 448.9,407.7 451.0,400.5 453.1,393.4 455.2,386.2 457.4,379.1 459.5,371.9 461.6,371.9 463.8,371.9 465.9,371.9 468.0,364.8 470.1,371.9 472.3,371.9 474.4,364.8 476.5,357.7 478.7,357.7 480.8,350.5 482.9,350.5 485.0,357.7 487.2,343.4 489.3,343.4 491.4,343.4 493.6,350.5 495.7,343.4 497.8,343.4 499.9,343.4 502.1,350.5 504.2,350.5 506.3,336.2 508.5,343.4 510.6,336.2 512.7,336.2 514.8,336.2 517.0,336.2 519.1,329.1 521.2,329.1 523.3,321.9 525.5,321.9 527.6,314.8 529.7,314.8 531.9,314.8 534.0,314.8 536.1,314.8 538.2,300.5 540.4,300.5 542.5,300.5 544.6,300.5 546.8,300.5 548.9,300.5 551.0,300.5 553.1,300.5 555.3,293.4 557.4,300.5 559.5,293.4 561.7,293.4 563.8,286.2 565.9,279.1 568.0,279.1 570.2,286.2 572.3,286.2 574.4,271.9 576.6,279.1 578.7,271.9 580.8,271.9 582.9,279.1 585.1,271.9 587.2,264.8 589.3,264.8 591.5,264.8 593.6,257.7 595.7,257.7 597.8,257.7 600.0,250.5 602.1,250.5 604.2,250.5 606.4,243.4 608.5,243.4 610.6,243.4 612.7,243.4 614.9,243.4 617.0,243.4 619.1,236.2 621.3,229.1 623.4,236.2 625.5,229.1 627.6,229.1 629.8,221.9 631.9,236.2 634.0,221.9 636.2,229.1 638.3,229.1 640.4,229.1 642.5,229.1 644.7,221.9 646.8,221.9 648.9,221.9 651.1,221.9 653.2,214.8 655.3,214.8 657.4,221.9 659.6,221.9 661.7,221.9 663.8,221.9 666.0,214.8 668.1,207.7 670.2,207.7 672.3,214.8 674.5,214.8 676.6,207.7 678.7,207.7 680.9,207.7 683.0,207.7 685.1,207.7 687.2,200.5 689.4,200.5 691.5,200.5 693.6,207.7 695.8,200.5 697.9,200.5 700.0,193.4 702.1,200.5 704.3,200.5 706.4,193.4 708.5,200.5 710.7,186.2 712.8,193.4 714.9,193.4 717.0,193.4 719.2,193.4 721.3,200.5 723.4,186.2 725.6,186.2 727.7,186.2 729.8,193.4 731.9,186.2 734.1,186.2 736.2,179.1 738.3,186.2 740.5,186.2 742.6,179.1 744.7,186.2 746.8,186.2 749.0,186.2 751.1,179.1 753.2,179.1 755.4,179.1 757.5,179.1 759.6,179.1 761.7,179.1 763.9,179.1 766.0,179.1 768.1,179.1 770.3,171.9 772.4,171.9 774.5,179.1 776.6,179.1 778.8,179.1 780.9,171.9 783.0,171.9 785.2,171.9 787.3,171.9 789.4,179.1 791.5,171.9 793.7,171.9 795.8,171.9 797.9,171.9 800.1,171.9 802.2,171.9 804.3,179.1 806.4,171.9 808.6,171.9 810.7,164.8 812.8,171.9 815.0,164.8 817.1,164.8 819.2,171.9 821.3,171.9 823.5,171.9 825.6,171.9 827.7,171.9 829.8,164.8 832.0,157.7 834.1,164.8 836.2,164.8 838.4,171.9 840.5,164.8 842.6,171.9 844.7,171.9 846.9,157.7 849.0,164.8 851.1,164.8 853.3,157.7 855.4,164.8 857.5,164.8 859.6,157.7 861.8,164.8 863.9,164.8 866.0,164.8 868.2,157.7 870.3,157.7 872.4,157.7 874.5,164.8 876.7,164.8 878.8,164.8 880.9,157.7 883.1,157.7 885.2,157.7 887.3,157.7 889.4,157.7 891.6,157.7 893.7,157.7 895.8,157.7 898.0,157.7 900.1,150.5 902.2,157.7 904.3,157.7 906.5,164.8 908.6,157.7 910.7,164.8 912.9,157.7 915.0,150.5 917.1,150.5 919.2,157.7 921.4,157.7 923.5,157.7 925.6,157.7 927.8,150.5 929.9,150.5 932.0,150.5 934.1,157.7 936.3,157.7 938.4,150.5 940.5,150.5 942.7,157.7 944.8,150.5 946.9,157.7 949.0,150.5 951.2,150.5 953.3,150.5 955.4,150.5 957.6,150.5 959.7,150.5 961.8,150.5 963.9,150.5 966.1,150.5 968.2,157.7 970.3,143.4 972.5,150.5 974.6,150.5 976.7,143.4 978.8,157.7 981.0,150.5 983.1,150.5 985.2,150.5 987.4,150.5 989.5,143.4 991.6,143.4 993.7,150.5 995.9,150.5 998.0,143.4 1000.1,143.4 1002.3,150.5 1004.4,143.4 1006.5,143.4 1008.6,143.4 1010.8,150.5 1012.9,143.4 1015.0,150.5 1017.2,136.2 1019.3,143.4 1021.4,136.2 1023.5,143.4 1025.7,143.4 1027.8,150.5 1029.9,143.4 1032.1,143.4 1034.2,150.5 1036.3,143.4 1038.4,143.4 1040.6,150.5 1042.7,143.4 1044.8,143.4 1047.0,143.4 1049.1,143.4 1051.2,143.4 1053.3,143.4 1055.5,143.4" fill="none" stroke="#D95319" stroke-width="1.1" stroke-linejoin="round" marker-start="url(#m1)" marker-mid="url(#m1)" marker-end="url(#m1)"/><polyline points="153.5,136.2 155.6,129.1 157.8,129.1 159.9,136.2 162.0,136.2 164.2,129.1 166.3,129.1 168.4,136.2 170.5,136.2 172.7,136.2 174.8,136.2 176.9,136.2 179.0,129.1 181.2,129.1 183.3,129.1 185.4,136.2 187.6,129.1 189.7,129.1 191.8,129.1 193.9,136.2 196.1,136.2 198.2,129.1 200.3,136.2 202.5,136.2 204.6,129.1 206.7,129.1 208.8,136.2 211.0,129.1 213.1,136.2 215.2,136.2 217.4,136.2 219.5,136.2 221.6,136.2 223.7,129.1 225.9,136.2 228.0,136.2 230.1,129.1 232.3,136.2 234.4,136.2 236.5,136.2 238.6,129.1 240.8,129.1 242.9,129.1 245.0,136.2 247.2,136.2 249.3,143.4 251.4,143.4 253.5,136.2 255.7,150.5 257.8,179.1 259.9,307.7 262.1,486.2 264.2,650.5 266.3,693.4 268.4,664.8 270.6,550.5 272.7,407.7 274.8,336.2 277.0,300.5 279.1,300.5 281.2,307.7 283.3,343.4 285.5,371.9 287.6,393.4 289.7,393.4 291.9,400.5 294.0,400.5 296.1,400.5 298.2,400.5 300.4,414.8 302.5,414.8 304.6,429.1 306.8,443.4 308.9,450.5 311.0,450.5 313.1,450.5 315.3,429.1 317.4,400.5 319.5,386.2 321.7,371.9 323.8,357.7 325.9,357.7 328.0,379.1 330.2,393.4 332.3,422.0 334.4,443.4 336.6,464.8 338.7,486.2 340.8,500.5 342.9,514.8 345.1,522.0 347.2,514.8 349.3,514.8 351.5,514.8 353.6,507.7 355.7,507.7 357.8,493.4 360.0,500.5 362.1,493.4 364.2,500.5 366.4,493.4 368.5,493.4 370.6,500.5 372.7,500.5 374.9,493.4 377.0,486.2 379.1,486.2 381.3,479.1 383.4,479.1 385.5,472.0 387.6,472.0 389.8,464.8 391.9,472.0 394.0,464.8 396.2,472.0 398.3,464.8 400.4,464.8 402.5,464.8 404.7,464.8 406.8,464.8 408.9,464.8 411.1,464.8 413.2,457.7 415.3,457.7 417.4,457.7 419.6,457.7 421.7,457.7 423.8,457.7 426.0,457.7 428.1,450.5 430.2,450.5 432.3,450.5 434.5,443.4 436.6,436.2 438.7,436.2 440.9,429.1 443.0,422.0 445.1,422.0 447.2,407.7 449.4,407.7 451.5,393.4 453.6,386.2 455.8,379.1 457.9,364.8 460.0,371.9 462.1,364.8 464.3,364.8 466.4,371.9 468.5,371.9 470.7,364.8 472.8,364.8 474.9,364.8 477.0,364.8 479.2,364.8 481.3,350.5 483.4,357.7 485.5,350.5 487.7,350.5 489.8,350.5 491.9,343.4 494.1,343.4 496.2,350.5 498.3,350.5 500.4,343.4 502.6,350.5 504.7,343.4 506.8,336.2 509.0,343.4 511.1,336.2 513.2,343.4 515.3,336.2 517.5,336.2 519.6,329.1 521.7,321.9 523.9,314.8 526.0,314.8 528.1,314.8 530.2,314.8 532.4,307.7 534.5,307.7 536.6,307.7 538.8,307.7 540.9,300.5 543.0,307.7 545.1,300.5 547.3,300.5 549.4,300.5 551.5,300.5 553.7,300.5 555.8,300.5 557.9,293.4 560.0,286.2 562.2,286.2 564.3,293.4 566.4,286.2 568.6,286.2 570.7,279.1 572.8,279.1 574.9,279.1 577.1,271.9 579.2,271.9 581.3,271.9 583.5,271.9 585.6,271.9 587.7,264.8 589.8,271.9 592.0,257.7 594.1,257.7 596.2,250.5 598.4,250.5 600.5,250.5 602.6,250.5 604.7,243.4 606.9,243.4 609.0,250.5 611.1,243.4 613.3,243.4 615.4,243.4 617.5,236.2 619.6,243.4 621.8,236.2 623.9,236.2 626.0,229.1 628.2,229.1 630.3,229.1 632.4,229.1 634.5,221.9 636.7,236.2 638.8,229.1 640.9,229.1 643.1,221.9 645.2,221.9 647.3,221.9 649.4,221.9 651.6,214.8 653.7,214.8 655.8,221.9 658.0,207.7 660.1,207.7 662.2,221.9 664.3,214.8 666.5,207.7 668.6,207.7 670.7,207.7 672.9,207.7 675.0,207.7 677.1,207.7 679.2,207.7 681.4,207.7 683.5,207.7 685.6,207.7 687.8,207.7 689.9,207.7 692.0,207.7 694.1,200.5 696.3,200.5 698.4,200.5 700.5,200.5 702.7,200.5 704.8,200.5 706.9,193.4 709.0,193.4 711.2,193.4 713.3,200.5 715.4,186.2 717.6,193.4 719.7,193.4 721.8,193.4 723.9,193.4 726.1,186.2 728.2,186.2 730.3,179.1 732.5,186.2 734.6,193.4 736.7,186.2 738.8,193.4 741.0,186.2 743.1,179.1 745.2,179.1 747.4,186.2 749.5,186.2 751.6,179.1 753.7,179.1 755.9,179.1 758.0,179.1 760.1,171.9 762.3,171.9 764.4,179.1 766.5,179.1 768.6,179.1 770.8,179.1 772.9,179.1 775.0,179.1 777.1,179.1 779.3,171.9 781.4,171.9 783.5,164.8 785.7,179.1 787.8,171.9 789.9,171.9 792.0,171.9 794.2,171.9 796.3,171.9 798.4,171.9 800.6,179.1 802.7,171.9 804.8,171.9 806.9,171.9 809.1,171.9 811.2,171.9 813.3,171.9 815.5,171.9 817.6,171.9 819.7,171.9 821.8,179.1 824.0,171.9 826.1,164.8 828.2,179.1 830.4,171.9 832.5,164.8 834.6,171.9 836.7,171.9 838.9,164.8 841.0,164.8 843.1,164.8 845.3,171.9 847.4,164.8 849.5,164.8 851.6,164.8 853.8,164.8 855.9,164.8 858.0,157.7 860.2,164.8 862.3,157.7 864.4,157.7 866.5,157.7 868.7,157.7 870.8,164.8 872.9,164.8 875.1,157.7 877.2,164.8 879.3,157.7 881.4,164.8 883.6,164.8 885.7,164.8 887.8,164.8 890.0,157.7 892.1,157.7 894.2,157.7 896.3,157.7 898.5,157.7 900.6,164.8 902.7,157.7 904.9,157.7 907.0,157.7 909.1,150.5 911.2,157.7 913.4,157.7 915.5,157.7 917.6,157.7 919.8,157.7 921.9,150.5 924.0,150.5 926.1,157.7 928.3,150.5 930.4,150.5 932.5,157.7 934.7,157.7 936.8,150.5 938.9,150.5 941.0,150.5 943.2,150.5 945.3,150.5 947.4,150.5 949.6,150.5 951.7,150.5 953.8,157.7 955.9,150.5 958.1,150.5 960.2,150.5 962.3,150.5 964.5,150.5 966.6,150.5 968.7,143.4 970.8,150.5 973.0,150.5 975.1,143.4 977.2,143.4 979.4,150.5 981.5,157.7 983.6,150.5 985.7,150.5 987.9,150.5 990.0,150.5 992.1,143.4 994.3,150.5 996.4,150.5 998.5,143.4 1000.6,150.5 1002.8,150.5 1004.9,143.4 1007.0,143.4 1009.2,150.5 1011.3,143.4 1013.4,150.5 1015.5,150.5 1017.7,143.4 1019.8,143.4 1021.9,150.5 1024.1,143.4 1026.2,143.4 1028.3,136.2 1030.4,150.5 1032.6,143.4 1034.7,143.4 1036.8,143.4 1039.0,143.4 1041.1,143.4 1043.2,143.4 1045.3,143.4 1047.5,143.4 1049.6,143.4 1051.7,143.4 1053.9,143.4 1056.0,136.2" fill="none" stroke="#EDB120" stroke-width="1.1" stroke-linejoin="round" marker-start="url(#m2)" marker-mid="url(#m2)" marker-end="url(#m2)"/><polyline points="153.9,129.1 156.0,129.1 158.2,129.1 160.3,136.2 162.4,136.2 164.5,129.1 166.7,136.2 168.8,129.1 170.9,129.1 173.1,129.1 175.2,136.2 177.3,136.2 179.4,129.1 181.6,136.2 183.7,129.1 185.8,143.4 188.0,129.1 190.1,136.2 192.2,129.1 194.3,136.2 196.5,129.1 198.6,136.2 200.7,129.1 202.9,136.2 205.0,136.2 207.1,129.1 209.2,136.2 211.4,136.2 213.5,136.2 215.6,136.2 217.8,129.1 219.9,129.1 222.0,136.2 224.1,136.2 226.3,129.1 228.4,129.1 230.5,129.1 232.6,129.1 234.8,136.2 236.9,136.2 239.0,136.2 241.2,136.2 243.3,129.1 245.4,136.2 247.5,129.1 249.7,143.4 251.8,143.4 253.9,143.4 256.1,150.5 258.2,243.4 260.3,407.7 262.4,586.2 264.6,679.1 266.7,679.1 268.8,600.5 271.0,457.7 273.1,350.5 275.2,314.8 277.3,286.2 279.5,293.4 281.6,321.9 283.7,350.5 285.9,371.9 288.0,386.2 290.1,400.5 292.2,393.4 294.4,393.4 296.5,393.4 298.6,400.5 300.8,414.8 302.9,422.0 305.0,429.1 307.1,450.5 309.3,457.7 311.4,443.4 313.5,436.2 315.7,414.8 317.8,400.5 319.9,386.2 322.0,364.8 324.2,357.7 326.3,371.9 328.4,393.4 330.6,407.7 332.7,436.2 334.8,450.5 336.9,472.0 339.1,486.2 341.2,507.7 343.3,507.7 345.5,514.8 347.6,514.8 349.7,507.7 351.8,507.7 354.0,507.7 356.1,500.5 358.2,500.5 360.4,493.4 362.5,493.4 364.6,493.4 366.7,486.2 368.9,493.4 371.0,493.4 373.1,486.2 375.3,493.4 377.4,493.4 379.5,486.2 381.6,486.2 383.8,472.0 385.9,472.0 388.0,472.0 390.2,472.0 392.3,464.8 394.4,464.8 396.5,472.0 398.7,464.8 400.8,472.0 402.9,464.8 405.1,464.8 407.2,464.8 409.3,457.7 411.4,464.8 413.6,457.7 415.7,457.7 417.8,457.7 420.0,457.7 422.1,457.7 424.2,450.5 426.3,457.7 428.5,450.5 430.6,443.4 432.7,443.4 434.9,436.2 437.0,436.2 439.1,429.1 441.2,422.0 443.4,414.8 445.5,407.7 447.6,407.7 449.8,393.4 451.9,386.2 454.0,379.1 456.1,371.9 458.3,371.9 460.4,371.9 462.5,364.8 464.7,364.8 466.8,371.9 468.9,357.7 471.0,364.8 473.2,364.8 475.3,364.8 477.4,357.7 479.6,343.4 481.7,350.5 483.8,350.5 485.9,343.4 488.1,343.4 490.2,336.2 492.3,343.4 494.5,336.2 496.6,343.4 498.7,336.2 500.8,336.2 503.0,336.2 505.1,343.4 507.2,336.2 509.4,336.2 511.5,336.2 513.6,336.2 515.7,336.2 517.9,336.2 520.0,321.9 522.1,321.9 524.3,321.9 526.4,321.9 528.5,307.7 530.6,307.7 532.8,307.7 534.9,300.5 537.0,307.7 539.1,300.5 541.3,300.5 543.4,300.5 545.5,300.5 547.7,300.5 549.8,293.4 551.9,293.4 554.0,293.4 556.2,293.4 558.3,293.4 560.4,293.4 562.6,293.4 564.7,286.2 566.8,286.2 568.9,279.1 571.1,279.1 573.2,264.8 575.3,271.9 577.5,271.9 579.6,271.9 581.7,264.8 583.8,264.8 586.0,264.8 588.1,264.8 590.2,257.7 592.4,257.7 594.5,257.7 596.6,250.5 598.7,257.7 600.9,250.5 603.0,250.5 605.1,243.4 607.3,243.4 609.4,243.4 611.5,236.2 613.6,236.2 615.8,243.4 617.9,236.2 620.0,236.2 622.2,229.1 624.3,229.1 626.4,229.1 628.5,229.1 630.7,229.1 632.8,229.1 634.9,221.9 637.1,221.9 639.2,229.1 641.3,221.9 643.4,221.9 645.6,221.9 647.7,221.9 649.8,221.9 652.0,221.9 654.1,214.8 656.2,214.8 658.3,214.8 660.5,214.8 662.6,214.8 664.7,214.8 666.9,207.7 669.0,207.7 671.1,207.7 673.2,207.7 675.4,200.5 677.5,207.7 679.6,207.7 681.8,200.5 683.9,200.5 686.0,207.7 688.1,207.7 690.3,200.5 692.4,200.5 694.5,207.7 696.7,200.5 698.8,200.5 700.9,200.5 703.0,193.4 705.2,193.4 707.3,193.4 709.4,193.4 711.6,186.2 713.7,193.4 715.8,193.4 717.9,193.4 720.1,186.2 722.2,186.2 724.3,193.4 726.5,186.2 728.6,186.2 730.7,186.2 732.8,179.1 735.0,179.1 737.1,186.2 739.2,186.2 741.4,186.2 743.5,179.1 745.6,179.1 747.7,171.9 749.9,179.1 752.0,186.2 754.1,179.1 756.3,179.1 758.4,179.1 760.5,179.1 762.6,179.1 764.8,179.1 766.9,179.1 769.0,179.1 771.2,171.9 773.3,179.1 775.4,179.1 777.5,179.1 779.7,179.1 781.8,171.9 783.9,179.1 786.1,171.9 788.2,171.9 790.3,171.9 792.4,171.9 794.6,179.1 796.7,164.8 798.8,171.9 801.0,171.9 803.1,179.1 805.2,171.9 807.3,164.8 809.5,164.8 811.6,171.9 813.7,164.8 815.9,171.9 818.0,171.9 820.1,171.9 822.2,164.8 824.4,171.9 826.5,164.8 828.6,164.8 830.7,171.9 832.9,171.9 835.0,164.8 837.1,164.8 839.3,171.9 841.4,164.8 843.5,164.8 845.6,164.8 847.8,157.7 849.9,164.8 852.0,164.8 854.2,164.8 856.3,164.8 858.4,164.8 860.5,157.7 862.7,164.8 864.8,164.8 866.9,157.7 869.1,157.7 871.2,157.7 873.3,157.7 875.4,157.7 877.6,157.7 879.7,157.7 881.8,150.5 884.0,164.8 886.1,157.7 888.2,164.8 890.3,157.7 892.5,157.7 894.6,150.5 896.7,157.7 898.9,157.7 901.0,157.7 903.1,157.7 905.2,157.7 907.4,157.7 909.5,157.7 911.6,157.7 913.8,157.7 915.9,157.7 918.0,157.7 920.1,157.7 922.3,150.5 924.4,157.7 926.5,150.5 928.7,150.5 930.8,157.7 932.9,157.7 935.0,150.5 937.2,143.4 939.3,157.7 941.4,150.5 943.6,150.5 945.7,150.5 947.8,143.4 949.9,150.5 952.1,150.5 954.2,157.7 956.3,143.4 958.5,150.5 960.6,157.7 962.7,150.5 964.8,150.5 967.0,143.4 969.1,150.5 971.2,150.5 973.4,143.4 975.5,143.4 977.6,150.5 979.7,143.4 981.9,143.4 984.0,150.5 986.1,150.5 988.3,150.5 990.4,150.5 992.5,143.4 994.6,150.5 996.8,143.4 998.9,143.4 1001.0,143.4 1003.2,150.5 1005.3,143.4 1007.4,143.4 1009.5,143.4 1011.7,143.4 1013.8,143.4 1015.9,150.5 1018.1,143.4 1020.2,150.5 1022.3,143.4 1024.4,143.4 1026.6,143.4 1028.7,143.4 1030.8,143.4 1033.0,150.5 1035.1,143.4 1037.2,150.5 1039.3,143.4 1041.5,136.2 1043.6,143.4 1045.7,143.4 1047.9,143.4 1050.0,143.4 1052.1,143.4 1054.2,136.2 1056.4,143.4" fill="none" stroke="#7E2F8E" stroke-width="1.1" stroke-linejoin="round" marker-start="url(#m3)" marker-mid="url(#m3)" marker-end="url(#m3)"/><polyline points="153.1,136.2 155.2,136.2 157.3,136.2 159.5,129.1 161.6,129.1 163.7,136.2 165.9,129.1 168.0,136.2 170.1,143.4 172.2,129.1 174.4,129.1 176.5,129.1 178.6,129.1 180.8,136.2 182.9,129.1 185.0,136.2 187.1,136.2 189.3,143.4 191.4,129.1 193.5,129.1 195.7,129.1 197.8,129.1 199.9,129.1 202.0,136.2 204.2,129.1 206.3,136.2 208.4,136.2 210.6,129.1 212.7,129.1 214.8,136.2 216.9,129.1 219.1,136.2 221.2,136.2 223.3,129.1 225.4,136.2 227.6,136.2 229.7,136.2 231.8,129.1 234.0,136.2 236.1,129.1 238.2,129.1 240.3,129.1 242.5,136.2 244.6,136.2 246.7,136.2 248.9,136.2 251.0,143.4 253.1,143.4 255.2,143.4 257.4,164.8 259.5,279.1 261.6,450.5 263.8,622.0 265.9,693.4 268.0,672.0 270.1,579.1 272.3,436.2 274.4,343.4 276.5,307.7 278.7,293.4 280.8,307.7 282.9,336.2 285.0,357.7 287.2,386.2 289.3,393.4 291.4,393.4 293.6,393.4 295.7,393.4 297.8,407.7 299.9,414.8 302.1,422.0 304.2,429.1 306.3,443.4 308.5,457.7 310.6,464.8 312.7,450.5 314.8,443.4 317.0,414.8 319.1,386.2 321.2,371.9 323.4,364.8 325.5,364.8 327.6,371.9 329.7,393.4 331.9,414.8 334.0,443.4 336.1,464.8 338.3,472.0 340.4,486.2 342.5,500.5 344.6,507.7 346.8,507.7 348.9,514.8 351.0,507.7 353.2,507.7 355.3,507.7 357.4,500.5 359.5,500.5 361.7,500.5 363.8,493.4 365.9,500.5 368.1,493.4 370.2,486.2 372.3,493.4 374.4,493.4 376.6,493.4 378.7,486.2 380.8,486.2 383.0,493.4 385.1,486.2 387.2,486.2 389.3,479.1 391.5,472.0 393.6,472.0 395.7,464.8 397.9,457.7 400.0,464.8 402.1,464.8 404.2,464.8 406.4,464.8 408.5,464.8 410.6,464.8 412.8,464.8 414.9,464.8 417.0,457.7 419.1,464.8 421.3,457.7 423.4,457.7 425.5,450.5 427.7,450.5 429.8,450.5 431.9,443.4 434.0,450.5 436.2,443.4 438.3,443.4 440.4,429.1 442.6,422.0 444.7,422.0 446.8,422.0 448.9,407.7 451.1,407.7 453.2,393.4 455.3,386.2 457.5,379.1 459.6,379.1 461.7,371.9 463.8,379.1 466.0,371.9 468.1,371.9 470.2,371.9 472.4,364.8 474.5,371.9 476.6,357.7 478.7,357.7 480.9,343.4 483.0,350.5 485.1,343.4 487.3,350.5 489.4,350.5 491.5,343.4 493.6,343.4 495.8,350.5 497.9,336.2 500.0,343.4 502.2,343.4 504.3,336.2 506.4,336.2 508.5,343.4 510.7,336.2 512.8,336.2 514.9,336.2 517.1,336.2 519.2,336.2 521.3,336.2 523.4,321.9 525.6,321.9 527.7,321.9 529.8,314.8 531.9,307.7 534.1,307.7 536.2,307.7 538.3,300.5 540.5,300.5 542.6,300.5 544.7,307.7 546.8,307.7 549.0,300.5 551.1,300.5 553.2,300.5 555.4,293.4 557.5,293.4 559.6,293.4 561.7,286.2 563.9,293.4 566.0,293.4 568.1,286.2 570.3,286.2 572.4,279.1 574.5,279.1 576.6,279.1 578.8,279.1 580.9,271.9 583.0,271.9 585.2,271.9 587.3,264.8 589.4,264.8 591.5,264.8 593.7,264.8 595.8,250.5 597.9,257.7 600.1,250.5 602.2,250.5 604.3,243.4 606.4,250.5 608.6,236.2 610.7,243.4 612.8,243.4 615.0,243.4 617.1,236.2 619.2,236.2 621.3,236.2 623.5,229.1 625.6,236.2 627.7,236.2 629.9,229.1 632.0,229.1 634.1,221.9 636.2,229.1 638.4,221.9 640.5,221.9 642.6,221.9 644.8,229.1 646.9,221.9 649.0,221.9 651.1,229.1 653.3,221.9 655.4,214.8 657.5,221.9 659.7,221.9 661.8,214.8 663.9,214.8 666.0,214.8 668.2,214.8 670.3,214.8 672.4,207.7 674.6,214.8 676.7,214.8 678.8,207.7 680.9,200.5 683.1,207.7 685.2,214.8 687.3,207.7 689.5,207.7 691.6,200.5 693.7,200.5 695.8,200.5 698.0,200.5 700.1,200.5 702.2,200.5 704.4,200.5 706.5,200.5 708.6,186.2 710.7,193.4 712.9,193.4 715.0,193.4 717.1,193.4 719.3,193.4 721.4,193.4 723.5,193.4 725.6,186.2 727.8,193.4 729.9,193.4 732.0,193.4 734.2,193.4 736.3,186.2 738.4,186.2 740.5,179.1 742.7,186.2 744.8,179.1 746.9,179.1 749.1,179.1 751.2,186.2 753.3,186.2 755.4,179.1 757.6,171.9 759.7,179.1 761.8,179.1 764.0,179.1 766.1,179.1 768.2,179.1 770.3,171.9 772.5,171.9 774.6,179.1 776.7,179.1 778.9,171.9 781.0,171.9 783.1,179.1 785.2,171.9 787.4,171.9 789.5,171.9 791.6,171.9 793.8,171.9 795.9,171.9 798.0,171.9 800.1,179.1 802.3,171.9 804.4,179.1 806.5,171.9 808.7,179.1 810.8,171.9 812.9,171.9 815.0,171.9 817.2,171.9 819.3,171.9 821.4,164.8 823.6,164.8 825.7,164.8 827.8,164.8 829.9,171.9 832.1,164.8 834.2,164.8 836.3,171.9 838.4,164.8 840.6,164.8 842.7,164.8 844.8,164.8 847.0,164.8 849.1,164.8 851.2,164.8 853.3,171.9 855.5,164.8 857.6,157.7 859.7,171.9 861.9,164.8 864.0,164.8 866.1,171.9 868.2,157.7 870.4,171.9 872.5,157.7 874.6,157.7 876.8,157.7 878.9,164.8 881.0,157.7 883.1,164.8 885.3,157.7 887.4,164.8 889.5,157.7 891.7,157.7 893.8,164.8 895.9,157.7 898.0,157.7 900.2,157.7 902.3,150.5 904.4,157.7 906.6,157.7 908.7,157.7 910.8,157.7 912.9,157.7 915.1,157.7 917.2,157.7 919.3,150.5 921.5,157.7 923.6,150.5 925.7,157.7 927.8,150.5 930.0,157.7 932.1,157.7 934.2,157.7 936.4,150.5 938.5,150.5 940.6,143.4 942.7,150.5 944.9,150.5 947.0,150.5 949.1,150.5 951.3,150.5 953.4,143.4 955.5,150.5 957.6,150.5 959.8,150.5 961.9,143.4 964.0,150.5 966.2,150.5 968.3,143.4 970.4,150.5 972.5,150.5 974.7,150.5 976.8,157.7 978.9,143.4 981.1,150.5 983.2,150.5 985.3,150.5 987.4,143.4 989.6,150.5 991.7,150.5 993.8,150.5 996.0,150.5 998.1,150.5 1000.2,143.4 1002.3,143.4 1004.5,150.5 1006.6,143.4 1008.7,143.4 1010.9,143.4 1013.0,143.4 1015.1,150.5 1017.2,143.4 1019.4,143.4 1021.5,150.5 1023.6,143.4 1025.8,143.4 1027.9,143.4 1030.0,143.4 1032.1,150.5 1034.3,150.5 1036.4,136.2 1038.5,143.4 1040.7,150.5 1042.8,143.4 1044.9,143.4 1047.0,150.5 1049.2,150.5 1051.3,150.5 1053.4,143.4 1055.6,143.4" fill="none" stroke="#77AC30" stroke-width="1.1" stroke-linejoin="round" marker-start="url(#m4)" marker-mid="url(#m4)" marker-end="url(#m4)"/><polyline points="152.3,129.1 154.4,136.2 156.6,129.1 158.7,136.2 160.8,129.1 163.0,129.1 165.1,129.1 167.2,129.1 169.3,136.2 171.5,143.4 173.6,129.1 175.7,136.2 177.9,136.2 180.0,129.1 182.1,136.2 184.2,129.1 186.4,136.2 188.5,129.1 190.6,129.1 192.8,136.2 194.9,136.2 197.0,129.1 199.1,129.1 201.3,136.2 203.4,136.2 205.5,129.1 207.7,129.1 209.8,129.1 211.9,136.2 214.0,129.1 216.2,129.1 218.3,129.1 220.4,129.1 222.6,136.2 224.7,136.2 226.8,129.1 228.9,129.1 231.1,136.2 233.2,136.2 235.3,129.1 237.5,136.2 239.6,136.2 241.7,129.1 243.8,136.2 246.0,136.2 248.1,143.4 250.2,143.4 252.4,143.4 254.5,143.4 256.6,186.2 258.7,307.7 260.9,486.2 263.0,636.2 265.1,686.2 267.3,657.7 269.4,543.4 271.5,400.5 273.6,329.1 275.8,293.4 277.9,286.2 280.0,300.5 282.2,336.2 284.3,364.8 286.4,379.1 288.5,386.2 290.7,393.4 292.8,400.5 294.9,400.5 297.1,400.5 299.2,407.7 301.3,414.8 303.4,429.1 305.6,436.2 307.7,450.5 309.8,443.4 312.0,436.2 314.1,429.1 316.2,400.5 318.3,393.4 320.5,371.9 322.6,364.8 324.7,357.7 326.9,371.9 329.0,386.2 331.1,407.7 333.2,436.2 335.4,450.5 337.5,472.0 339.6,486.2 341.8,500.5 343.9,507.7 346.0,507.7 348.1,507.7 350.3,507.7 352.4,500.5 354.5,493.4 356.7,493.4 358.8,493.4 360.9,493.4 363.0,486.2 365.2,486.2 367.3,493.4 369.4,486.2 371.6,486.2 373.7,486.2 375.8,486.2 377.9,486.2 380.1,479.1 382.2,479.1 384.3,472.0 386.4,457.7 388.6,464.8 390.7,457.7 392.8,457.7 395.0,464.8 397.1,457.7 399.2,457.7 401.3,464.8 403.5,457.7 405.6,450.5 407.7,450.5 409.9,457.7 412.0,457.7 414.1,457.7 416.2,450.5 418.4,450.5 420.5,450.5 422.6,450.5 424.8,450.5 426.9,450.5 429.0,443.4 431.1,443.4 433.3,436.2 435.4,436.2 437.5,429.1 439.7,429.1 441.8,422.0 443.9,414.8 446.0,407.7 448.2,400.5 450.3,393.4 452.4,386.2 454.6,379.1 456.7,371.9 458.8,371.9 460.9,371.9 463.1,371.9 465.2,364.8 467.3,364.8 469.5,364.8 471.6,364.8 473.7,357.7 475.8,357.7 478.0,343.4 480.1,350.5 482.2,343.4 484.4,350.5 486.5,343.4 488.6,336.2 490.7,336.2 492.9,336.2 495.0,336.2 497.1,336.2 499.3,336.2 501.4,336.2 503.5,336.2 505.6,336.2 507.8,336.2 509.9,336.2 512.0,336.2 514.2,329.1 516.3,329.1 518.4,321.9 520.5,329.1 522.7,314.8 524.8,307.7 526.9,314.8 529.1,314.8 531.2,307.7 533.3,300.5 535.4,307.7 537.6,300.5 539.7,300.5 541.8,300.5 544.0,286.2 546.1,293.4 548.2,293.4 550.3,293.4 552.5,293.4 554.6,286.2 556.7,286.2 558.9,286.2 561.0,293.4 563.1,279.1 565.2,279.1 567.4,279.1 569.5,279.1 571.6,271.9 573.8,271.9 575.9,271.9 578.0,271.9 580.1,264.8 582.3,264.8 584.4,264.8 586.5,264.8 588.7,264.8 590.8,257.7 592.9,264.8 595.0,257.7 597.2,257.7 599.3,250.5 601.4,243.4 603.6,243.4 605.7,243.4 607.8,243.4 609.9,236.2 612.1,236.2 614.2,236.2 616.3,236.2 618.5,236.2 620.6,229.1 622.7,229.1 624.8,229.1 627.0,221.9 629.1,229.1 631.2,221.9 633.4,221.9 635.5,221.9 637.6,229.1 639.7,221.9 641.9,221.9 644.0,221.9 646.1,214.8 648.3,214.8 650.4,214.8 652.5,214.8 654.6,221.9 656.8,214.8 658.9,214.8 661.0,214.8 663.2,214.8 665.3,214.8 667.4,214.8 669.5,207.7 671.7,207.7 673.8,207.7 675.9,207.7 678.1,200.5 680.2,207.7 682.3,193.4 684.4,200.5 686.6,200.5 688.7,200.5 690.8,193.4 692.9,207.7 695.1,193.4 697.2,200.5 699.3,193.4 701.5,193.4 703.6,200.5 705.7,193.4 707.8,186.2 710.0,186.2 712.1,186.2 714.2,186.2 716.4,193.4 718.5,193.4 720.6,186.2 722.7,193.4 724.9,186.2 727.0,193.4 729.1,186.2 731.3,186.2 733.4,171.9 735.5,179.1 737.6,179.1 739.8,179.1 741.9,186.2 744.0,179.1 746.2,186.2 748.3,171.9 750.4,179.1 752.5,179.1 754.7,179.1 756.8,171.9 758.9,171.9 761.1,171.9 763.2,179.1 765.3,179.1 767.4,171.9 769.6,171.9 771.7,179.1 773.8,179.1 776.0,171.9 778.1,179.1 780.2,171.9 782.3,171.9 784.5,164.8 786.6,164.8 788.7,164.8 790.9,164.8 793.0,171.9 795.1,171.9 797.2,164.8 799.4,164.8 801.5,164.8 803.6,164.8 805.8,171.9 807.9,171.9 810.0,164.8 812.1,164.8 814.3,164.8 816.4,171.9 818.5,164.8 820.7,171.9 822.8,164.8 824.9,171.9 827.0,164.8 829.2,171.9 831.3,164.8 833.4,171.9 835.6,164.8 837.7,157.7 839.8,164.8 841.9,164.8 844.1,164.8 846.2,171.9 848.3,164.8 850.5,164.8 852.6,164.8 854.7,157.7 856.8,164.8 859.0,164.8 861.1,157.7 863.2,164.8 865.4,150.5 867.5,164.8 869.6,157.7 871.7,157.7 873.9,164.8 876.0,164.8 878.1,157.7 880.3,157.7 882.4,157.7 884.5,157.7 886.6,157.7 888.8,157.7 890.9,164.8 893.0,157.7 895.2,157.7 897.3,157.7 899.4,157.7 901.5,157.7 903.7,150.5 905.8,150.5 907.9,150.5 910.1,157.7 912.2,157.7 914.3,157.7 916.4,157.7 918.6,157.7 920.7,150.5 922.8,150.5 925.0,150.5 927.1,150.5 929.2,150.5 931.3,150.5 933.5,157.7 935.6,150.5 937.7,150.5 939.9,150.5 942.0,150.5 944.1,150.5 946.2,150.5 948.4,143.4 950.5,150.5 952.6,150.5 954.8,150.5 956.9,150.5 959.0,150.5 961.1,157.7 963.3,143.4 965.4,150.5 967.5,143.4 969.7,143.4 971.8,143.4 973.9,143.4 976.0,150.5 978.2,143.4 980.3,150.5 982.4,143.4 984.5,143.4 986.7,143.4 988.8,150.5 990.9,150.5 993.1,143.4 995.2,143.4 997.3,143.4 999.4,143.4 1001.6,143.4 1003.7,143.4 1005.8,150.5 1008.0,143.4 1010.1,143.4 1012.2,143.4 1014.3,136.2 1016.5,143.4 1018.6,143.4 1020.7,150.5 1022.9,143.4 1025.0,143.4 1027.1,143.4 1029.2,143.4 1031.4,143.4 1033.5,150.5 1035.6,143.4 1037.8,143.4 1039.9,143.4 1042.0,143.4 1044.1,143.4 1046.3,143.4 1048.4,143.4 1050.5,143.4 1052.7,136.2 1054.8,143.4" fill="none" stroke="#4DBEEE" stroke-width="1.1" stroke-linejoin="round" marker-start="url(#m5)" marker-mid="url(#m5)" marker-end="url(#m5)"/><polyline points="153.7,136.2 155.8,136.2 157.9,129.1 160.0,129.1 162.2,136.2 164.3,136.2 166.4,129.1 168.6,136.2 170.7,136.2 172.8,136.2 174.9,129.1 177.1,129.1 179.2,136.2 181.3,136.2 183.5,129.1 185.6,129.1 187.7,136.2 189.8,136.2 192.0,136.2 194.1,129.1 196.2,136.2 198.4,136.2 200.5,136.2 202.6,136.2 204.7,136.2 206.9,136.2 209.0,129.1 211.1,136.2 213.3,136.2 215.4,136.2 217.5,136.2 219.6,129.1 221.8,136.2 223.9,129.1 226.0,136.2 228.2,136.2 230.3,136.2 232.4,136.2 234.5,136.2 236.7,129.1 238.8,136.2 240.9,136.2 243.1,129.1 245.2,136.2 247.3,136.2 249.4,136.2 251.6,143.4 253.7,143.4 255.8,143.4 258.0,186.2 260.1,307.7 262.2,479.1 264.3,636.2 266.5,686.2 268.6,664.8 270.7,543.4 272.9,400.5 275.0,329.1 277.1,300.5 279.2,300.5 281.4,307.7 283.5,343.4 285.6,371.9 287.8,379.1 289.9,386.2 292.0,393.4 294.1,393.4 296.3,400.5 298.4,400.5 300.5,407.7 302.7,422.0 304.8,436.2 306.9,450.5 309.0,457.7 311.2,457.7 313.3,443.4 315.4,429.1 317.6,407.7 319.7,386.2 321.8,371.9 323.9,357.7 326.1,357.7 328.2,379.1 330.3,400.5 332.5,414.8 334.6,443.4 336.7,464.8 338.8,486.2 341.0,493.4 343.1,500.5 345.2,514.8 347.4,500.5 349.5,500.5 351.6,507.7 353.7,507.7 355.9,507.7 358.0,500.5 360.1,493.4 362.3,493.4 364.4,493.4 366.5,486.2 368.6,493.4 370.8,486.2 372.9,486.2 375.0,486.2 377.2,486.2 379.3,479.1 381.4,479.1 383.5,479.1 385.7,472.0 387.8,479.1 389.9,472.0 392.1,464.8 394.2,472.0 396.3,464.8 398.4,464.8 400.6,464.8 402.7,457.7 404.8,457.7 407.0,450.5 409.1,457.7 411.2,457.7 413.3,457.7 415.5,457.7 417.6,450.5 419.7,457.7 421.8,457.7 424.0,443.4 426.1,443.4 428.2,443.4 430.4,443.4 432.5,443.4 434.6,443.4 436.7,436.2 438.9,436.2 441.0,429.1 443.1,429.1 445.3,414.8 447.4,407.7 449.5,407.7 451.6,393.4 453.8,393.4 455.9,379.1 458.0,371.9 460.2,371.9 462.3,379.1 464.4,371.9 466.5,371.9 468.7,371.9 470.8,364.8 472.9,371.9 475.1,364.8 477.2,357.7 479.3,350.5 481.4,343.4 483.6,343.4 485.7,350.5 487.8,343.4 490.0,350.5 492.1,350.5 494.2,343.4 496.3,343.4 498.5,350.5 500.6,343.4 502.7,336.2 504.9,336.2 507.0,336.2 509.1,336.2 511.2,343.4 513.4,336.2 515.5,336.2 517.6,329.1 519.8,329.1 521.9,329.1 524.0,314.8 526.1,314.8 528.3,314.8 530.4,314.8 532.5,300.5 534.7,307.7 536.8,300.5 538.9,300.5 541.0,307.7 543.2,300.5 545.3,300.5 547.4,300.5 549.6,300.5 551.7,293.4 553.8,293.4 555.9,293.4 558.1,286.2 560.2,293.4 562.3,286.2 564.5,279.1 566.6,286.2 568.7,279.1 570.8,279.1 573.0,279.1 575.1,279.1 577.2,271.9 579.4,271.9 581.5,271.9 583.6,271.9 585.7,264.8 587.9,264.8 590.0,257.7 592.1,250.5 594.3,257.7 596.4,250.5 598.5,257.7 600.6,250.5 602.8,250.5 604.9,243.4 607.0,243.4 609.2,243.4 611.3,243.4 613.4,243.4 615.5,243.4 617.7,236.2 619.8,236.2 621.9,236.2 624.1,236.2 626.2,236.2 628.3,229.1 630.4,229.1 632.6,229.1 634.7,229.1 636.8,229.1 639.0,221.9 641.1,229.1 643.2,221.9 645.3,229.1 647.5,229.1 649.6,221.9 651.7,221.9 653.9,221.9 656.0,214.8 658.1,229.1 660.2,214.8 662.4,207.7 664.5,214.8 666.6,207.7 668.8,214.8 670.9,214.8 673.0,214.8 675.1,207.7 677.3,207.7 679.4,207.7 681.5,207.7 683.7,207.7 685.8,207.7 687.9,207.7 690.0,200.5 692.2,193.4 694.3,200.5 696.4,193.4 698.6,200.5 700.7,200.5 702.8,207.7 704.9,193.4 707.1,200.5 709.2,186.2 711.3,193.4 713.5,193.4 715.6,200.5 717.7,186.2 719.8,193.4 722.0,193.4 724.1,193.4 726.2,186.2 728.3,186.2 730.5,186.2 732.6,186.2 734.7,186.2 736.9,179.1 739.0,186.2 741.1,179.1 743.2,186.2 745.4,186.2 747.5,179.1 749.6,186.2 751.8,186.2 753.9,179.1 756.0,179.1 758.1,179.1 760.3,179.1 762.4,186.2 764.5,179.1 766.7,171.9 768.8,171.9 770.9,179.1 773.0,171.9 775.2,171.9 777.3,179.1 779.4,171.9 781.6,179.1 783.7,179.1 785.8,171.9 787.9,171.9 790.1,171.9 792.2,171.9 794.3,171.9 796.5,171.9 798.6,164.8 800.7,171.9 802.8,179.1 805.0,164.8 807.1,171.9 809.2,171.9 811.4,171.9 813.5,164.8 815.6,171.9 817.7,171.9 819.9,179.1 822.0,171.9 824.1,171.9 826.3,171.9 828.4,164.8 830.5,171.9 832.6,164.8 834.8,171.9 836.9,171.9 839.0,164.8 841.2,171.9 843.3,164.8 845.4,164.8 847.5,164.8 849.7,157.7 851.8,164.8 853.9,164.8 856.1,164.8 858.2,171.9 860.3,164.8 862.4,164.8 864.6,164.8 866.7,157.7 868.8,171.9 871.0,164.8 873.1,164.8 875.2,157.7 877.3,164.8 879.5,164.8 881.6,164.8 883.7,157.7 885.9,157.7 888.0,157.7 890.1,164.8 892.2,157.7 894.4,157.7 896.5,157.7 898.6,157.7 900.8,157.7 902.9,157.7 905.0,157.7 907.1,157.7 909.3,157.7 911.4,157.7 913.5,157.7 915.7,150.5 917.8,150.5 919.9,157.7 922.0,150.5 924.2,157.7 926.3,157.7 928.4,150.5 930.6,157.7 932.7,157.7 934.8,150.5 936.9,150.5 939.1,157.7 941.2,150.5 943.3,157.7 945.5,157.7 947.6,150.5 949.7,150.5 951.8,157.7 954.0,150.5 956.1,157.7 958.2,150.5 960.4,150.5 962.5,150.5 964.6,150.5 966.7,157.7 968.9,157.7 971.0,150.5 973.1,143.4 975.3,143.4 977.4,150.5 979.5,143.4 981.6,150.5 983.8,143.4 985.9,150.5 988.0,143.4 990.2,143.4 992.3,150.5 994.4,143.4 996.5,150.5 998.7,150.5 1000.8,143.4 1002.9,136.2 1005.1,143.4 1007.2,143.4 1009.3,150.5 1011.4,143.4 1013.6,150.5 1015.7,150.5 1017.8,143.4 1020.0,150.5 1022.1,143.4 1024.2,143.4 1026.3,150.5 1028.5,150.5 1030.6,150.5 1032.7,150.5 1034.8,143.4 1037.0,143.4 1039.1,143.4 1041.2,143.4 1043.4,143.4 1045.5,143.4 1047.6,150.5 1049.7,143.4 1051.9,143.4 1054.0,143.4 1056.1,143.4" fill="none" stroke="#A2142F" stroke-width="1.1" stroke-linejoin="round" marker-start="url(#m6)" marker-mid="url(#m6)" marker-end="url(#m6)"/><polyline points="152.1,136.2 154.3,129.1 156.4,129.1 158.5,136.2 160.6,129.1 162.8,136.2 164.9,129.1 167.0,136.2 169.2,136.2 171.3,129.1 173.4,136.2 175.5,136.2 177.7,143.4 179.8,129.1 181.9,136.2 184.1,143.4 186.2,136.2 188.3,136.2 190.4,129.1 192.6,136.2 194.7,129.1 196.8,136.2 199.0,129.1 201.1,129.1 203.2,129.1 205.3,136.2 207.5,129.1 209.6,136.2 211.7,129.1 213.9,129.1 216.0,136.2 218.1,136.2 220.2,136.2 222.4,136.2 224.5,136.2 226.6,136.2 228.8,136.2 230.9,136.2 233.0,129.1 235.1,136.2 237.3,136.2 239.4,136.2 241.5,136.2 243.7,136.2 245.8,136.2 247.9,136.2 250.0,136.2 252.2,143.4 254.3,136.2 256.4,171.9 258.6,293.4 260.7,464.8 262.8,629.1 264.9,693.4 267.1,672.0 269.2,564.8 271.3,429.1 273.5,343.4 275.6,314.8 277.7,300.5 279.8,314.8 282.0,336.2 284.1,364.8 286.2,386.2 288.4,393.4 290.5,393.4 292.6,393.4 294.7,400.5 296.9,400.5 299.0,414.8 301.1,422.0 303.3,436.2 305.4,450.5 307.5,464.8 309.6,457.7 311.8,450.5 313.9,443.4 316.0,407.7 318.2,386.2 320.3,379.1 322.4,364.8 324.5,364.8 326.7,379.1 328.8,400.5 330.9,422.0 333.1,443.4 335.2,472.0 337.3,479.1 339.4,493.4 341.6,507.7 343.7,514.8 345.8,514.8 348.0,514.8 350.1,514.8 352.2,514.8 354.3,507.7 356.5,507.7 358.6,500.5 360.7,493.4 362.8,500.5 365.0,500.5 367.1,500.5 369.2,500.5 371.4,493.4 373.5,493.4 375.6,493.4 377.7,493.4 379.9,486.2 382.0,486.2 384.1,486.2 386.3,479.1 388.4,472.0 390.5,472.0 392.6,464.8 394.8,464.8 396.9,464.8 399.0,464.8 401.2,464.8 403.3,464.8 405.4,464.8 407.5,464.8 409.7,464.8 411.8,464.8 413.9,457.7 416.1,457.7 418.2,472.0 420.3,457.7 422.4,464.8 424.6,457.7 426.7,457.7 428.8,450.5 431.0,443.4 433.1,450.5 435.2,443.4 437.3,443.4 439.5,443.4 441.6,429.1 443.7,422.0 445.9,414.8 448.0,407.7 450.1,386.2 452.2,393.4 454.4,393.4 456.5,379.1 458.6,379.1 460.8,379.1 462.9,371.9 465.0,379.1 467.1,371.9 469.3,371.9 471.4,371.9 473.5,371.9 475.7,364.8 477.8,350.5 479.9,350.5 482.0,350.5 484.2,350.5 486.3,350.5 488.4,343.4 490.6,350.5 492.7,343.4 494.8,343.4 496.9,350.5 499.1,343.4 501.2,343.4 503.3,343.4 505.5,343.4 507.6,336.2 509.7,336.2 511.8,343.4 514.0,336.2 516.1,329.1 518.2,336.2 520.4,329.1 522.5,321.9 524.6,321.9 526.7,314.8 528.9,314.8 531.0,307.7 533.1,307.7 535.3,307.7 537.4,307.7 539.5,307.7 541.6,307.7 543.8,300.5 545.9,307.7 548.0,300.5 550.2,293.4 552.3,293.4 554.4,293.4 556.5,300.5 558.7,286.2 560.8,293.4 562.9,286.2 565.1,279.1 567.2,286.2 569.3,279.1 571.4,279.1 573.6,279.1 575.7,279.1 577.8,271.9 580.0,271.9 582.1,264.8 584.2,264.8 586.3,271.9 588.5,264.8 590.6,264.8 592.7,264.8 594.9,264.8 597.0,257.7 599.1,257.7 601.2,257.7 603.4,250.5 605.5,243.4 607.6,250.5 609.8,243.4 611.9,236.2 614.0,236.2 616.1,243.4 618.3,243.4 620.4,236.2 622.5,236.2 624.7,236.2 626.8,236.2 628.9,229.1 631.0,236.2 633.2,236.2 635.3,229.1 637.4,221.9 639.6,229.1 641.7,229.1 643.8,221.9 645.9,221.9 648.1,221.9 650.2,221.9 652.3,221.9 654.5,214.8 656.6,221.9 658.7,214.8 660.8,214.8 663.0,214.8 665.1,214.8 667.2,214.8 669.3,214.8 671.5,214.8 673.6,207.7 675.7,207.7 677.9,207.7 680.0,214.8 682.1,207.7 684.2,207.7 686.4,207.7 688.5,207.7 690.6,200.5 692.8,200.5 694.9,200.5 697.0,207.7 699.1,200.5 701.3,200.5 703.4,193.4 705.5,200.5 707.7,200.5 709.8,193.4 711.9,193.4 714.0,193.4 716.2,193.4 718.3,186.2 720.4,193.4 722.6,193.4 724.7,193.4 726.8,186.2 728.9,186.2 731.1,186.2 733.2,186.2 735.3,186.2 737.5,179.1 739.6,186.2 741.7,186.2 743.8,186.2 746.0,186.2 748.1,186.2 750.2,179.1 752.4,179.1 754.5,171.9 756.6,179.1 758.7,179.1 760.9,179.1 763.0,171.9 765.1,179.1 767.3,179.1 769.4,171.9 771.5,171.9 773.6,179.1 775.8,171.9 777.9,171.9 780.0,179.1 782.2,179.1 784.3,171.9 786.4,171.9 788.5,164.8 790.7,179.1 792.8,171.9 794.9,171.9 797.1,179.1 799.2,171.9 801.3,179.1 803.4,164.8 805.6,171.9 807.7,171.9 809.8,171.9 812.0,171.9 814.1,171.9 816.2,171.9 818.3,171.9 820.5,164.8 822.6,171.9 824.7,171.9 826.9,164.8 829.0,171.9 831.1,164.8 833.2,171.9 835.4,171.9 837.5,164.8 839.6,171.9 841.8,164.8 843.9,171.9 846.0,171.9 848.1,164.8 850.3,164.8 852.4,164.8 854.5,171.9 856.7,164.8 858.8,171.9 860.9,164.8 863.0,164.8 865.2,164.8 867.3,157.7 869.4,164.8 871.6,157.7 873.7,157.7 875.8,164.8 877.9,164.8 880.1,164.8 882.2,164.8 884.3,157.7 886.5,164.8 888.6,157.7 890.7,157.7 892.8,157.7 895.0,164.8 897.1,157.7 899.2,157.7 901.4,157.7 903.5,157.7 905.6,157.7 907.7,157.7 909.9,150.5 912.0,164.8 914.1,157.7 916.3,157.7 918.4,157.7 920.5,150.5 922.6,157.7 924.8,157.7 926.9,157.7 929.0,157.7 931.2,150.5 933.3,150.5 935.4,157.7 937.5,143.4 939.7,150.5 941.8,157.7 943.9,150.5 946.1,150.5 948.2,150.5 950.3,143.4 952.4,157.7 954.6,150.5 956.7,150.5 958.8,150.5 960.9,150.5 963.1,157.7 965.2,150.5 967.3,143.4 969.5,157.7 971.6,150.5 973.7,150.5 975.8,150.5 978.0,143.4 980.1,157.7 982.2,150.5 984.4,143.4 986.5,150.5 988.6,150.5 990.7,143.4 992.9,143.4 995.0,143.4 997.1,157.7 999.3,150.5 1001.4,143.4 1003.5,150.5 1005.6,143.4 1007.8,136.2 1009.9,150.5 1012.0,150.5 1014.2,143.4 1016.3,150.5 1018.4,150.5 1020.5,143.4 1022.7,143.4 1024.8,143.4 1026.9,150.5 1029.1,143.4 1031.2,143.4 1033.3,143.4 1035.4,143.4 1037.6,143.4 1039.7,150.5 1041.8,143.4 1044.0,136.2 1046.1,136.2 1048.2,143.4 1050.3,143.4 1052.5,143.4 1054.6,150.5 1056.7,143.4" fill="none" stroke="#0072BD" stroke-width="1.1" stroke-linejoin="round" marker-start="url(#m0)" marker-mid="url(#m0)" marker-end="url(#m0)"/><polyline points="152.8,136.2 155.0,129.1 157.1,136.2 159.2,136.2 161.3,136.2 163.5,129.1 165.6,129.1 167.7,129.1 169.9,129.1 172.0,143.4 174.1,136.2 176.2,136.2 178.4,129.1 180.5,136.2 182.6,129.1 184.8,129.1 186.9,136.2 189.0,129.1 191.1,136.2 193.3,136.2 195.4,129.1 197.5,136.2 199.7,136.2 201.8,136.2 203.9,136.2 206.0,136.2 208.2,129.1 210.3,136.2 212.4,129.1 214.6,129.1 216.7,136.2 218.8,129.1 220.9,129.1 223.1,136.2 225.2,136.2 227.3,129.1 229.5,129.1 231.6,136.2 233.7,129.1 235.8,136.2 238.0,136.2 240.1,136.2 242.2,136.2 244.4,129.1 246.5,136.2 248.6,143.4 250.7,136.2 252.9,143.4 255.0,143.4 257.1,171.9 259.3,286.2 261.4,464.8 263.5,636.2 265.6,707.7 267.8,686.2 269.9,579.1 272.0,436.2 274.2,357.7 276.3,307.7 278.4,300.5 280.5,314.8 282.7,343.4 284.8,371.9 286.9,393.4 289.1,400.5 291.2,400.5 293.3,407.7 295.4,393.4 297.6,407.7 299.7,414.8 301.8,429.1 303.9,436.2 306.1,450.5 308.2,464.8 310.3,464.8 312.5,450.5 314.6,436.2 316.7,407.7 318.8,393.4 321.0,379.1 323.1,371.9 325.2,364.8 327.4,379.1 329.5,400.5 331.6,422.0 333.7,443.4 335.9,464.8 338.0,479.1 340.1,500.5 342.3,514.8 344.4,514.8 346.5,514.8 348.6,514.8 350.8,514.8 352.9,514.8 355.0,514.8 357.2,507.7 359.3,507.7 361.4,500.5 363.5,500.5 365.7,500.5 367.8,500.5 369.9,500.5 372.1,493.4 374.2,493.4 376.3,500.5 378.4,493.4 380.6,493.4 382.7,486.2 384.8,493.4 387.0,486.2 389.1,479.1 391.2,479.1 393.3,479.1 395.5,472.0 397.6,472.0 399.7,472.0 401.9,472.0 404.0,464.8 406.1,472.0 408.2,472.0 410.4,472.0 412.5,472.0 414.6,472.0 416.8,464.8 418.9,464.8 421.0,464.8 423.1,464.8 425.3,457.7 427.4,450.5 429.5,464.8 431.7,450.5 433.8,450.5 435.9,457.7 438.0,450.5 440.2,443.4 442.3,429.1 444.4,429.1 446.6,422.0 448.7,407.7 450.8,400.5 452.9,393.4 455.1,393.4 457.2,379.1 459.3,386.2 461.5,371.9 463.6,379.1 465.7,379.1 467.8,379.1 470.0,379.1 472.1,379.1 474.2,371.9 476.4,371.9 478.5,364.8 480.6,350.5 482.7,357.7 484.9,350.5 487.0,350.5 489.1,343.4 491.3,350.5 493.4,350.5 495.5,350.5 497.6,350.5 499.8,343.4 501.9,343.4 504.0,343.4 506.2,343.4 508.3,343.4 510.4,343.4 512.5,343.4 514.7,336.2 516.8,336.2 518.9,336.2 521.1,329.1 523.2,329.1 525.3,321.9 527.4,314.8 529.6,321.9 531.7,314.8 533.8,307.7 536.0,314.8 538.1,314.8 540.2,300.5 542.3,300.5 544.5,307.7 546.6,300.5 548.7,300.5 550.9,307.7 553.0,293.4 555.1,300.5 557.2,293.4 559.4,293.4 561.5,293.4 563.6,293.4 565.8,286.2 567.9,279.1 570.0,279.1 572.1,279.1 574.3,271.9 576.4,279.1 578.5,271.9 580.7,271.9 582.8,271.9 584.9,264.8 587.0,264.8 589.2,264.8 591.3,264.8 593.4,264.8 595.5,257.7 597.7,257.7 599.8,257.7 601.9,257.7 604.1,257.7 606.2,250.5 608.3,243.4 610.4,243.4 612.6,243.4 614.7,243.4 616.8,243.4 619.0,250.5 621.1,236.2 623.2,243.4 625.3,236.2 627.5,236.2 629.6,229.1 631.7,236.2 633.9,229.1 636.0,229.1 638.1,229.1 640.2,229.1 642.4,221.9 644.5,221.9 646.6,221.9 648.8,221.9 650.9,221.9 653.0,221.9 655.1,221.9 657.3,221.9 659.4,221.9 661.5,221.9 663.7,207.7 665.8,221.9 667.9,214.8 670.0,214.8 672.2,214.8 674.3,214.8 676.4,214.8 678.6,214.8 680.7,214.8 682.8,207.7 684.9,207.7 687.1,207.7 689.2,200.5 691.3,207.7 693.5,200.5 695.6,200.5 697.7,200.5 699.8,200.5 702.0,200.5 704.1,200.5 706.2,200.5 708.4,200.5 710.5,193.4 712.6,193.4 714.7,186.2 716.9,193.4 719.0,193.4 721.1,193.4 723.3,193.4 725.4,193.4 727.5,193.4 729.6,193.4 731.8,193.4 733.9,186.2 736.0,186.2 738.2,193.4 740.3,179.1 742.4,179.1 744.5,186.2 746.7,179.1 748.8,186.2 750.9,179.1 753.1,186.2 755.2,186.2 757.3,179.1 759.4,179.1 761.6,171.9 763.7,186.2 765.8,179.1 768.0,179.1 770.1,171.9 772.2,171.9 774.3,171.9 776.5,164.8 778.6,179.1 780.7,171.9 782.9,171.9 785.0,179.1 787.1,171.9 789.2,171.9 791.4,179.1 793.5,179.1 795.6,171.9 797.8,179.1 799.9,171.9 802.0,179.1 804.1,164.8 806.3,164.8 808.4,171.9 810.5,171.9 812.7,171.9 814.8,171.9 816.9,171.9 819.0,171.9 821.2,171.9 823.3,164.8 825.4,171.9 827.6,171.9 829.7,171.9 831.8,171.9 833.9,164.8 836.1,171.9 838.2,171.9 840.3,164.8 842.5,164.8 844.6,164.8 846.7,171.9 848.8,164.8 851.0,164.8 853.1,171.9 855.2,171.9 857.4,164.8 859.5,164.8 861.6,164.8 863.7,164.8 865.9,164.8 868.0,164.8 870.1,164.8 872.3,164.8 874.4,157.7 876.5,157.7 878.6,164.8 880.8,157.7 882.9,157.7 885.0,164.8 887.2,157.7 889.3,164.8 891.4,150.5 893.5,164.8 895.7,150.5 897.8,157.7 899.9,164.8 902.0,157.7 904.2,157.7 906.3,157.7 908.4,150.5 910.6,157.7 912.7,157.7 914.8,150.5 916.9,157.7 919.1,157.7 921.2,157.7 923.3,150.5 925.5,150.5 927.6,157.7 929.7,157.7 931.8,150.5 934.0,157.7 936.1,150.5 938.2,157.7 940.4,157.7 942.5,150.5 944.6,150.5 946.7,150.5 948.9,143.4 951.0,150.5 953.1,150.5 955.3,150.5 957.4,150.5 959.5,150.5 961.6,143.4 963.8,150.5 965.9,150.5 968.0,150.5 970.2,150.5 972.3,150.5 974.4,150.5 976.5,143.4 978.7,150.5 980.8,150.5 982.9,150.5 985.1,150.5 987.2,150.5 989.3,143.4 991.4,143.4 993.6,143.4 995.7,150.5 997.8,143.4 1000.0,157.7 1002.1,150.5 1004.2,143.4 1006.3,143.4 1008.5,150.5 1010.6,150.5 1012.7,143.4 1014.9,143.4 1017.0,150.5 1019.1,143.4 1021.2,150.5 1023.4,150.5 1025.5,143.4 1027.6,150.5 1029.8,150.5 1031.9,150.5 1034.0,143.4 1036.1,150.5 1038.3,143.4 1040.4,143.4 1042.5,143.4 1044.7,143.4 1046.8,150.5 1048.9,150.5 1051.0,150.5 1053.2,143.4 1055.3,136.2" fill="none" stroke="#D95319" stroke-width="1.1" stroke-linejoin="round" marker-start="url(#m1)" marker-mid="url(#m1)" marker-end="url(#m1)"/><polyline points="152.4,136.2 154.5,136.2 156.7,129.1 158.8,129.1 160.9,129.1 163.1,136.2 165.2,136.2 167.3,129.1 169.4,136.2 171.6,136.2 173.7,129.1 175.8,129.1 178.0,136.2 180.1,129.1 182.2,129.1 184.3,136.2 186.5,129.1 188.6,129.1 190.7,129.1 192.9,129.1 195.0,136.2 197.1,136.2 199.2,129.1 201.4,129.1 203.5,129.1 205.6,129.1 207.8,129.1 209.9,136.2 212.0,129.1 214.1,136.2 216.3,129.1 218.4,129.1 220.5,136.2 222.7,129.1 224.8,136.2 226.9,136.2 229.0,129.1 231.2,136.2 233.3,136.2 235.4,129.1 237.6,129.1 239.7,136.2 241.8,136.2 243.9,129.1 246.1,136.2 248.2,136.2 250.3,143.4 252.5,143.4 254.6,143.4 256.7,179.1 258.8,293.4 261.0,479.1 263.1,636.2 265.2,686.2 267.4,664.8 269.5,550.5 271.6,407.7 273.7,336.2 275.9,300.5 278.0,300.5 280.1,314.8 282.3,343.4 284.4,371.9 286.5,393.4 288.6,393.4 290.8,393.4 292.9,393.4 295.0,393.4 297.2,400.5 299.3,407.7 301.4,422.0 303.5,443.4 305.7,450.5 307.8,457.7 309.9,457.7 312.1,450.5 314.2,429.1 316.3,407.7 318.4,386.2 320.6,364.8 322.7,357.7 324.8,357.7 327.0,379.1 329.1,400.5 331.2,422.0 333.3,443.4 335.5,457.7 337.6,486.2 339.7,493.4 341.8,507.7 344.0,507.7 346.1,500.5 348.2,507.7 350.4,507.7 352.5,514.8 354.6,507.7 356.7,507.7 358.9,507.7 361.0,507.7 363.1,500.5 365.3,493.4 367.4,493.4 369.5,493.4 371.6,493.4 373.8,479.1 375.9,486.2 378.0,486.2 380.2,479.1 382.3,486.2 384.4,479.1 386.5,479.1 388.7,472.0 390.8,472.0 392.9,472.0 395.1,457.7 397.2,457.7 399.3,464.8 401.4,457.7 403.6,450.5 405.7,457.7 407.8,457.7 410.0,464.8 412.1,457.7 414.2,464.8 416.3,464.8 418.5,457.7 420.6,450.5 422.7,457.7 424.9,457.7 427.0,450.5 429.1,450.5 431.2,443.4 433.4,450.5 435.5,450.5 437.6,436.2 439.8,436.2 441.9,429.1 444.0,414.8 446.1,414.8 448.3,407.7 450.4,393.4 452.5,386.2 454.7,379.1 456.8,371.9 458.9,371.9 461.0,364.8 463.2,364.8 465.3,364.8 467.4,371.9 469.6,364.8 471.7,371.9 473.8,364.8 475.9,357.7 478.1,350.5 480.2,350.5 482.3,350.5 484.5,343.4 486.6,350.5 488.7,343.4 490.8,343.4 493.0,343.4 495.1,343.4 497.2,343.4 499.4,343.4 501.5,343.4 503.6,336.2 505.7,336.2 507.9,343.4 510.0,336.2 512.1,329.1 514.3,336.2 516.4,336.2 518.5,336.2 520.6,329.1 522.8,321.9 524.9,314.8 527.0,314.8 529.2,314.8 531.3,300.5 533.4,307.7 535.5,300.5 537.7,300.5 539.8,307.7 541.9,300.5 544.1,300.5 546.2,300.5 548.3,307.7 550.4,300.5 552.6,293.4 554.7,293.4 556.8,293.4 559.0,293.4 561.1,286.2 563.2,286.2 565.3,286.2 567.5,286.2 569.6,279.1 571.7,279.1 573.9,279.1 576.0,279.1 578.1,271.9 580.2,264.8 582.4,271.9 584.5,264.8 586.6,257.7 588.8,257.7 590.9,257.7 593.0,264.8 595.1,250.5 597.3,257.7 599.4,257.7 601.5,250.5 603.7,243.4 605.8,243.4 607.9,236.2 610.0,236.2 612.2,236.2 614.3,236.2 616.4,236.2 618.6,229.1 620.7,236.2 622.8,229.1 624.9,229.1 627.1,229.1 629.2,221.9 631.3,221.9 633.5,229.1 635.6,229.1 637.7,229.1 639.8,229.1 642.0,221.9 644.1,229.1 646.2,229.1 648.3,221.9 650.5,221.9 652.6,221.9 654.7,221.9 656.9,214.8 659.0,214.8 661.1,214.8 663.2,207.7 665.4,214.8 667.5,207.7 669.6,214.8 671.8,207.7 673.9,207.7 676.0,214.8 678.1,200.5 680.3,207.7 682.4,200.5 684.5,200.5 686.7,207.7 688.8,207.7 690.9,200.5 693.0,200.5 695.2,200.5 697.3,200.5 699.4,200.5 701.6,200.5 703.7,200.5 705.8,200.5 707.9,193.4 710.1,200.5 712.2,200.5 714.3,193.4 716.5,193.4 718.6,186.2 720.7,193.4 722.8,186.2 725.0,186.2 727.1,186.2 729.2,186.2 731.4,186.2 733.5,186.2 735.6,179.1 737.7,179.1 739.9,179.1 742.0,179.1 744.1,186.2 746.3,179.1 748.4,179.1 750.5,186.2 752.6,179.1 754.8,179.1 756.9,179.1 759.0,179.1 761.2,179.1 763.3,179.1 765.4,179.1 767.5,171.9 769.7,171.9 771.8,171.9 773.9,179.1 776.1,171.9 778.2,171.9 780.3,171.9 782.4,171.9 784.6,179.1 786.7,171.9 788.8,179.1 791.0,171.9 793.1,179.1 795.2,164.8 797.3,164.8 799.5,171.9 801.6,179.1 803.7,171.9 805.9,164.8 808.0,171.9 810.1,171.9 812.2,171.9 814.4,164.8 816.5,171.9 818.6,164.8 820.8,171.9 822.9,164.8 825.0,164.8 827.1,164.8 829.3,164.8 831.4,164.8 833.5,171.9 835.7,164.8 837.8,164.8 839.9,164.8 842.0,164.8 844.2,164.8 846.3,157.7 848.4,164.8 850.6,164.8 852.7,164.8 854.8,164.8 856.9,164.8 859.1,164.8 861.2,164.8 863.3,164.8 865.5,164.8 867.6,164.8 869.7,157.7 871.8,157.7 874.0,150.5 876.1,164.8 878.2,164.8 880.4,157.7 882.5,164.8 884.6,157.7 886.7,157.7 888.9,157.7 891.0,157.7 893.1,157.7 895.3,150.5 897.4,157.7 899.5,157.7 901.6,150.5 903.8,157.7 905.9,157.7 908.0,157.7 910.2,157.7 912.3,150.5 914.4,157.7 916.5,157.7 918.7,157.7 920.8,157.7 922.9,150.5 925.1,157.7 927.2,157.7 929.3,150.5 931.4,157.7 933.6,150.5 935.7,150.5 937.8,150.5 940.0,150.5 942.1,157.7 944.2,157.7 946.3,150.5 948.5,150.5 950.6,143.4 952.7,143.4 954.8,150.5 957.0,150.5 959.1,143.4 961.2,157.7 963.4,150.5 965.5,150.5 967.6,150.5 969.7,150.5 971.9,150.5 974.0,157.7 976.1,150.5 978.3,150.5 980.4,150.5 982.5,150.5 984.6,143.4 986.8,150.5 988.9,150.5 991.0,150.5 993.2,150.5 995.3,150.5 997.4,143.4 999.5,143.4 1001.7,150.5 1003.8,143.4 1005.9,150.5 1008.1,143.4 1010.2,143.4 1012.3,150.5 1014.4,143.4 1016.6,150.5 1018.7,143.4 1020.8,150.5 1023.0,143.4 1025.1,143.4 1027.2,143.4 1029.3,143.4 1031.5,143.4 1033.6,143.4 1035.7,150.5 1037.9,143.4 1040.0,143.4 1042.1,143.4 1044.2,150.5 1046.4,143.4 1048.5,143.4 1050.6,143.4 1052.8,150.5 1054.9,143.4" fill="none" stroke="#EDB120" stroke-width="1.1" stroke-linejoin="round" marker-start="url(#m2)" marker-mid="url(#m2)" marker-end="url(#m2)"/><polyline points="153.0,136.2 155.1,136.2 157.3,136.2 159.4,136.2 161.5,129.1 163.7,129.1 165.8,129.1 167.9,129.1 170.0,136.2 172.2,136.2 174.3,129.1 176.4,136.2 178.6,136.2 180.7,129.1 182.8,136.2 184.9,129.1 187.1,136.2 189.2,129.1 191.3,136.2 193.5,136.2 195.6,136.2 197.7,129.1 199.8,129.1 202.0,129.1 204.1,129.1 206.2,129.1 208.4,129.1 210.5,136.2 212.6,136.2 214.7,136.2 216.9,136.2 219.0,136.2 221.1,136.2 223.2,143.4 225.4,129.1 227.5,136.2 229.6,136.2 231.8,129.1 233.9,136.2 236.0,129.1 238.1,129.1 240.3,136.2 242.4,136.2 244.5,136.2 246.7,143.4 248.8,136.2 250.9,143.4 253.0,143.4 255.2,143.4 257.3,157.7 259.4,243.4 261.6,407.7 263.7,586.2 265.8,686.2 267.9,679.1 270.1,600.5 272.2,457.7 274.3,357.7 276.5,314.8 278.6,293.4 280.7,300.5 282.8,336.2 285.0,357.7 287.1,379.1 289.2,393.4 291.4,400.5 293.5,393.4 295.6,393.4 297.7,407.7 299.9,407.7 302.0,422.0 304.1,443.4 306.3,450.5 308.4,472.0 310.5,472.0 312.6,464.8 314.8,450.5 316.9,429.1 319.0,407.7 321.2,386.2 323.3,371.9 325.4,364.8 327.5,379.1 329.7,400.5 331.8,414.8 333.9,436.2 336.1,457.7 338.2,479.1 340.3,493.4 342.4,507.7 344.6,514.8 346.7,514.8 348.8,514.8 351.0,507.7 353.1,514.8 355.2,507.7 357.3,507.7 359.5,507.7 361.6,500.5 363.7,500.5 365.9,507.7 368.0,493.4 370.1,500.5 372.2,500.5 374.4,500.5 376.5,493.4 378.6,493.4 380.8,493.4 382.9,486.2 385.0,486.2 387.1,479.1 389.3,472.0 391.4,479.1 393.5,479.1 395.7,472.0 397.8,472.0 399.9,464.8 402.0,464.8 404.2,464.8 406.3,464.8 408.4,464.8 410.6,464.8 412.7,472.0 414.8,457.7 416.9,457.7 419.1,457.7 421.2,457.7 423.3,457.7 425.5,457.7 427.6,450.5 429.7,450.5 431.8,450.5 434.0,450.5 436.1,450.5 438.2,436.2 440.4,436.2 442.5,436.2 444.6,436.2 446.7,422.0 448.9,422.0 451.0,400.5 453.1,393.4 455.3,393.4 457.4,379.1 459.5,371.9 461.6,371.9 463.8,379.1 465.9,379.1 468.0,379.1 470.2,379.1 472.3,371.9 474.4,357.7 476.5,357.7 478.7,357.7 480.8,350.5 482.9,350.5 485.1,343.4 487.2,350.5 489.3,350.5 491.4,343.4 493.6,343.4 495.7,343.4 497.8,343.4 500.0,343.4 502.1,343.4 504.2,343.4 506.3,336.2 508.5,336.2 510.6,343.4 512.7,336.2 514.9,343.4 517.0,343.4 519.1,336.2 521.2,329.1 523.4,329.1 525.5,329.1 527.6,321.9 529.7,314.8 531.9,314.8 534.0,321.9 536.1,307.7 538.3,307.7 540.4,307.7 542.5,307.7 544.6,307.7 546.8,300.5 548.9,300.5 551.0,300.5 553.2,300.5 555.3,293.4 557.4,293.4 559.5,293.4 561.7,293.4 563.8,286.2 565.9,286.2 568.1,279.1 570.2,279.1 572.3,286.2 574.4,271.9 576.6,279.1 578.7,271.9 580.8,271.9 583.0,264.8 585.1,279.1 587.2,264.8 589.3,264.8 591.5,257.7 593.6,271.9 595.7,264.8 597.9,257.7 600.0,257.7 602.1,250.5 604.2,250.5 606.4,243.4 608.5,243.4 610.6,243.4 612.8,243.4 614.9,236.2 617.0,236.2 619.1,229.1 621.3,236.2 623.4,229.1 625.5,236.2 627.7,243.4 629.8,229.1 631.9,229.1 634.0,229.1 636.2,229.1 638.3,221.9 640.4,221.9 642.6,221.9 644.7,229.1 646.8,229.1 648.9,214.8 651.1,221.9 653.2,221.9 655.3,214.8 657.5,214.8 659.6,221.9 661.7,214.8 663.8,214.8 666.0,214.8 668.1,207.7 670.2,214.8 672.4,214.8 674.5,214.8 676.6,207.7 678.7,214.8 680.9,207.7 683.0,207.7 685.1,207.7 687.3,207.7 689.4,200.5 691.5,200.5 693.6,200.5 695.8,200.5 697.9,207.7 700.0,193.4 702.2,200.5 704.3,200.5 706.4,200.5 708.5,193.4 710.7,200.5 712.8,193.4 714.9,193.4 717.1,186.2 719.2,186.2 721.3,186.2 723.4,193.4 725.6,186.2 727.7,186.2 729.8,186.2 732.0,186.2 734.1,186.2 736.2,186.2 738.3,179.1 740.5,179.1 742.6,186.2 744.7,179.1 746.9,179.1 749.0,179.1 751.1,179.1 753.2,179.1 755.4,179.1 757.5,179.1 759.6,186.2 761.8,179.1 763.9,179.1 766.0,179.1 768.1,171.9 770.3,179.1 772.4,171.9 774.5,171.9 776.7,179.1 778.8,171.9 780.9,171.9 783.0,171.9 785.2,179.1 787.3,171.9 789.4,171.9 791.6,171.9 793.7,171.9 795.8,171.9 797.9,171.9 800.1,171.9 802.2,164.8 804.3,171.9 806.5,171.9 808.6,171.9 810.7,171.9 812.8,171.9 815.0,171.9 817.1,164.8 819.2,171.9 821.3,164.8 823.5,164.8 825.6,171.9 827.7,164.8 829.9,164.8 832.0,171.9 834.1,171.9 836.2,164.8 838.4,171.9 840.5,157.7 842.6,164.8 844.8,164.8 846.9,164.8 849.0,164.8 851.1,164.8 853.3,164.8 855.4,164.8 857.5,164.8 859.7,157.7 861.8,164.8 863.9,164.8 866.0,164.8 868.2,164.8 870.3,157.7 872.4,171.9 874.6,157.7 876.7,164.8 878.8,157.7 880.9,150.5 883.1,164.8 885.2,164.8 887.3,157.7 889.5,157.7 891.6,157.7 893.7,157.7 895.8,157.7 898.0,157.7 900.1,150.5 902.2,157.7 904.4,157.7 906.5,150.5 908.6,150.5 910.7,157.7 912.9,157.7 915.0,157.7 917.1,157.7 919.3,157.7 921.4,157.7 923.5,157.7 925.6,164.8 927.8,157.7 929.9,150.5 932.0,150.5 934.2,157.7 936.3,150.5 938.4,150.5 940.5,150.5 942.7,150.5 944.8,150.5 946.9,143.4 949.1,150.5 951.2,150.5 953.3,157.7 955.4,150.5 957.6,150.5 959.7,143.4 961.8,150.5 964.0,143.4 966.1,143.4 968.2,143.4 970.3,150.5 972.5,143.4 974.6,150.5 976.7,150.5 978.9,150.5 981.0,150.5 983.1,150.5 985.2,157.7 987.4,143.4 989.5,150.5 991.6,150.5 993.8,150.5 995.9,143.4 998.0,143.4 1000.1,150.5 1002.3,143.4 1004.4,150.5 1006.5,150.5 1008.7,150.5 1010.8,143.4 1012.9,143.4 1015.0,143.4 1017.2,150.5 1019.3,143.4 1021.4,143.4 1023.6,143.4 1025.7,143.4 1027.8,150.5 1029.9,143.4 1032.1,143.4 1034.2,143.4 1036.3,143.4 1038.5,143.4 1040.6,143.4 1042.7,143.4 1044.8,143.4 1047.0,143.4 1049.1,143.4 1051.2,143.4 1053.4,143.4 1055.5,136.2" fill="none" stroke="#7E2F8E" stroke-width="1.1" stroke-linejoin="round" marker-start="url(#m3)" marker-mid="url(#m3)" marker-end="url(#m3)"/><path d="M263.7 589.2V749.0M231.8 589.2H285.0M231.8 749.0H285.0M418.1 334.8V505.5M391.5 334.8H444.7M391.5 505.5H444.7M577.7 235.5V320.5M551.1 235.5H604.3M551.1 320.5H604.3" stroke="#141414" stroke-width="1.7" fill="none"/><text x="152.0" y="814.2" font-size="27.5" text-anchor="middle">-20</text><text x="258.4" y="814.2" font-size="27.5" text-anchor="middle">0</text><text x="364.8" y="814.2" font-size="27.5" text-anchor="middle">20</text><text x="471.3" y="814.2" font-size="27.5" text-anchor="middle">40</text><text x="577.7" y="814.2" font-size="27.5" text-anchor="middle">60</text><text x="684.1" y="814.2" font-size="27.5" text-anchor="middle">80</text><text x="790.5" y="814.2" font-size="27.5" text-anchor="middle">100</text><text x="897.0" y="814.2" font-size="27.5" text-anchor="middle">120</text><text x="1003.4" y="814.2" font-size="27.5" text-anchor="middle">140</text><text x="140.3" y="786.7" font-size="27.5" text-anchor="end">-18</text><text x="140.3" y="715.3" font-size="27.5" text-anchor="end">-16</text><text x="140.3" y="643.8" font-size="27.5" text-anchor="end">-14</text><text x="140.3" y="572.4" font-size="27.5" text-anchor="end">-12</text><text x="140.3" y="501.0" font-size="27.5" text-anchor="end">-10</text><text x="140.3" y="429.6" font-size="27.5" text-anchor="end">-8</text><text x="140.3" y="358.1" font-size="27.5" text-anchor="end">-6</text><text x="140.3" y="286.7" font-size="27.5" text-anchor="end">-4</text><text x="140.3" y="215.3" font-size="27.5" text-anchor="end">-2</text><text x="140.3" y="143.8" font-size="27.5" text-anchor="end">0</text><text x="140.3" y="72.4" font-size="27.5" text-anchor="end">2</text><text x="542" y="852.3" font-size="32.5">Time</text><text x="622.5" y="852.3" font-size="32.5" textLength="43" lengthAdjust="spacing">[ns]</text><g transform="translate(85.4 0) rotate(-90)"><text x="-498.5" y="0" font-size="32.5" textLength="103" lengthAdjust="spacing">Current</text><text x="-381.5" y="0" font-size="32.5" textLength="35" lengthAdjust="spacing">[A]</text></g><rect x="731.3" y="262.6" width="311.1" height="347" fill="#fff" stroke="#262626" stroke-width="1.6"/><path d="M739.8 281.3H822.7" stroke="#0072BD" stroke-width="1.5"/><circle cx="780.8" cy="281.3" r="2.7" fill="#0072BD"/><text x="830" y="287.7" font-size="25.5" style="fill:#000" textLength="202" lengthAdjust="spacing">Theory -4kV/-15A</text><path d="M739.8 312.3H822.7" stroke="#D95319" stroke-width="1.5"/><circle cx="780.8" cy="312.3" r="2.7" fill="#D95319"/><text x="830" y="318.7" font-size="25.5" style="fill:#000">meas.</text><text x="901.5" y="318.7" font-size="25.5" style="fill:#000">1</text><path d="M739.8 343.3H822.7" stroke="#EDB120" stroke-width="1.5"/><circle cx="780.8" cy="343.3" r="2.7" fill="#EDB120"/><text x="830" y="349.7" font-size="25.5" style="fill:#000">meas.</text><text x="901.5" y="349.7" font-size="25.5" style="fill:#000">2</text><path d="M739.8 374.3H822.7" stroke="#7E2F8E" stroke-width="1.5"/><circle cx="780.8" cy="374.3" r="2.7" fill="#7E2F8E"/><text x="830" y="380.7" font-size="25.5" style="fill:#000">meas.</text><text x="901.5" y="380.7" font-size="25.5" style="fill:#000">3</text><path d="M739.8 405.3H822.7" stroke="#77AC30" stroke-width="1.5"/><circle cx="780.8" cy="405.3" r="2.7" fill="#77AC30"/><text x="830" y="411.7" font-size="25.5" style="fill:#000">meas.</text><text x="901.5" y="411.7" font-size="25.5" style="fill:#000">4</text><path d="M739.8 436.3H822.7" stroke="#4DBEEE" stroke-width="1.5"/><circle cx="780.8" cy="436.3" r="2.7" fill="#4DBEEE"/><text x="830" y="442.7" font-size="25.5" style="fill:#000">meas.</text><text x="901.5" y="442.7" font-size="25.5" style="fill:#000">5</text><path d="M739.8 467.3H822.7" stroke="#A2142F" stroke-width="1.5"/><circle cx="780.8" cy="467.3" r="2.7" fill="#A2142F"/><text x="830" y="473.7" font-size="25.5" style="fill:#000">meas.</text><text x="901.5" y="473.7" font-size="25.5" style="fill:#000">6</text><path d="M739.8 498.3H822.7" stroke="#0072BD" stroke-width="1.5"/><circle cx="780.8" cy="498.3" r="2.7" fill="#0072BD"/><text x="830" y="504.7" font-size="25.5" style="fill:#000">meas.</text><text x="901.5" y="504.7" font-size="25.5" style="fill:#000">7</text><path d="M739.8 529.3H822.7" stroke="#D95319" stroke-width="1.5"/><circle cx="780.8" cy="529.3" r="2.7" fill="#D95319"/><text x="830" y="535.7" font-size="25.5" style="fill:#000">meas.</text><text x="901.5" y="535.7" font-size="25.5" style="fill:#000">8</text><path d="M739.8 560.3H822.7" stroke="#EDB120" stroke-width="1.5"/><circle cx="780.8" cy="560.3" r="2.7" fill="#EDB120"/><text x="830" y="566.7" font-size="25.5" style="fill:#000">meas.</text><text x="901.5" y="566.7" font-size="25.5" style="fill:#000">9</text><path d="M739.8 591.3H822.7" stroke="#7E2F8E" stroke-width="1.5"/><circle cx="780.8" cy="591.3" r="2.7" fill="#7E2F8E"/><text x="830" y="597.7" font-size="25.5" style="fill:#000">meas.</text><text x="901.5" y="597.7" font-size="25.5" style="fill:#000">10</text></svg></body></html>
